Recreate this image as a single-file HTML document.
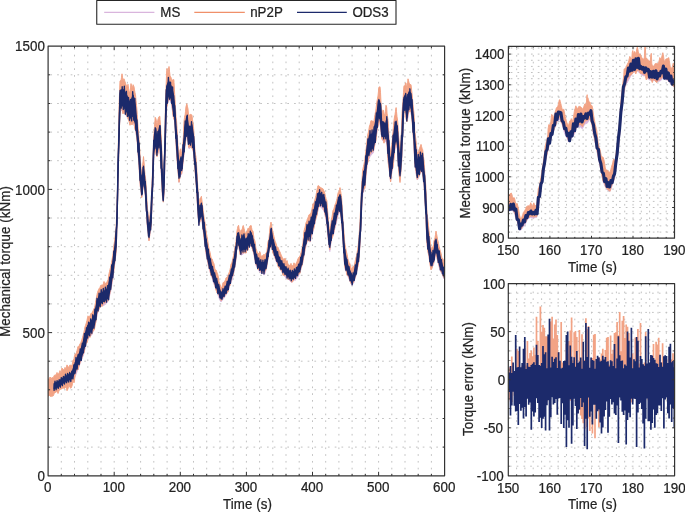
<!DOCTYPE html>
<html lang="en"><head><meta charset="utf-8"><title>Mechanical torque comparison</title>
<style>html,body{margin:0;padding:0;background:#fff}body{width:685px;height:512px;overflow:hidden}svg{display:block}</style>
</head><body>
<svg width="685" height="512" viewBox="0 0 685 512" font-family="'Liberation Sans', Arial, sans-serif" font-size="13.33" fill="#222" stroke-linejoin="round"><style>text{stroke:#222;stroke-width:.22px}</style>
<rect width="685" height="512" fill="#fff"/>
<clipPath id="cm"><rect x="48.1" y="46.2" width="396.5" height="429.6"/></clipPath>
<g stroke="#c2c2c2" stroke-width="1" stroke-dasharray="1.7 5.07" fill="none"><path d="M61.3 46.2V475.8M74.5 46.2V475.8M87.8 46.2V475.8M101 46.2V475.8M114.2 46.2V475.8M127.4 46.2V475.8M140.6 46.2V475.8M153.8 46.2V475.8M167.1 46.2V475.8M180.3 46.2V475.8M193.5 46.2V475.8M206.7 46.2V475.8M219.9 46.2V475.8M233.2 46.2V475.8M246.4 46.2V475.8M259.6 46.2V475.8M272.8 46.2V475.8M286 46.2V475.8M299.2 46.2V475.8M312.5 46.2V475.8M325.7 46.2V475.8M338.9 46.2V475.8M352.1 46.2V475.8M365.3 46.2V475.8M378.6 46.2V475.8M391.8 46.2V475.8M405 46.2V475.8M418.2 46.2V475.8M431.4 46.2V475.8" stroke-dashoffset="5.0"/><path d="M48.1 447.1H444.6M48.1 418.5H444.6M48.1 389.8H444.6M48.1 361.2H444.6M48.1 332.6H444.6M48.1 303.9H444.6M48.1 275.3H444.6M48.1 246.7H444.6M48.1 218H444.6M48.1 189.4H444.6M48.1 160.7H444.6M48.1 132.1H444.6M48.1 103.5H444.6M48.1 74.8H444.6" stroke-dashoffset="4.5"/></g>
<g clip-path="url(#cm)">
<polygon points="54,383.7 55,383.3 56,382.9 57,382.4 58,382 58.8,381.7 59.5,381.1 60.5,380.2 61.5,379.3 62.5,378.5 63.4,377.7 64,377.4 65,376.8 66,376.3 67,375.8 68,375.3 68.5,374.9 69.5,374.3 70.5,373.7 71.5,373 72.5,371 73.5,367.5 74.5,364.1 75.2,361.7 76,360 77,357.8 78,355.6 79,353.3 80,351.1 80.6,349.7 81.5,346.7 82.5,343.4 83.5,339.7 84.5,335.8 85.3,332.7 86,330.4 87,327 87.7,324.7 88.5,323.7 89.5,322.4 90.5,321.1 91.5,319.8 92,318.9 93,316.8 94,314.7 95,311.1 96,305.9 97,300.7 97.5,299 98.5,296.8 99.5,294.5 100.3,292.7 101,292.3 102,291.6 103,291 104,290.3 105,289.7 106,288.7 107,287.8 108,286.8 108.5,284.7 109.5,279.7 110.5,274.7 111.5,268.6 112.5,262.5 113,259.2 114,251.9 114.7,246.7 115.5,239 116.2,231.7 117,209.1 118,167.7 118.5,144 119.3,112 120,92 120.9,87.8 121.5,87.6 122.5,87.4 123.5,87.1 124,87.5 125,89.5 126,91.5 126.9,93.2 127.5,94.7 128.5,97.2 129.5,99.8 130.5,99.5 131.5,96.5 132.5,93.5 133.1,91.7 134,96.3 135,101.4 136,110.3 137,122.9 137.5,128.4 138.5,138.5 139,144.8 140,160 140.5,167.3 141.5,181.2 142,180.7 143,169.9 144,169.6 145,179.9 145.6,186 146.5,200.6 147.2,212 148,220 149,230 150,220.5 151,211 151.5,200.6 152.5,177 153.5,149.3 154,138.8 155,127.6 155.5,127.2 156.5,133.3 157.5,134.2 158.5,129.7 159.5,125.2 160,126.6 161,140.3 161.5,148.9 162.4,177 163,187 163.5,186.4 164.2,167 165,132 165.8,102 166.5,88 167,83.3 168,81 168.8,79.2 169.5,81 170.5,83.3 171.4,85.4 172,87.4 173,90.7 173.8,93.2 174.5,103.9 175,110.6 176,123.7 176.5,130.5 177.5,144.7 178,151.5 179,164.5 180,159.6 180.6,156.7 181.5,160.5 182,158.5 183,148.7 183.5,143 184.5,129.5 185,124.4 186,119.2 186.9,114.5 187.5,118.6 188.5,125.3 189,126.6 190,125.1 191,123.6 191.9,122.3 192.5,126.7 193.4,133.2 194,142 195,156.7 196,166.5 196.6,172.3 197.5,187.1 198,196.2 198.8,212 199.5,209 200.5,205.2 201.4,202 202,206.7 203,214.5 203.5,218.4 204.5,226.2 205.5,234 206,237.6 207,243.7 208,249.8 208.5,252.2 209.5,256.7 210.5,261.1 211.2,264.5 212,266.7 213,269.5 214,272.4 215,275.3 215.6,277 216.5,279.7 217.5,282.7 218.5,285.7 219,287.1 220,290.1 221,293.1 221.5,292.9 222.5,291.6 223.5,290.4 224.2,289.5 225,287.9 226,285.9 227,283.9 227.5,282.7 228.5,279.7 229.5,276.8 230.5,273.9 231.5,269.9 232.5,265.8 233.5,261.8 234,259 235,253 236,247 237,236.4 238,233.5 238.6,231.7 239.5,236.9 240.2,241 241,239 242,236.5 243,234 243.5,233.8 244.5,236.5 245.5,239.2 246,238.9 247,237.4 248,235.9 248.8,234.8 249.5,233.8 250.5,232.5 251.1,231.7 252,235.3 253,239.4 253.5,241.5 254.5,246.7 255.5,251.9 256,254 257,256.8 258,259.5 258.5,260.1 259.5,260.8 260.5,261.5 261.2,262 262,262 263,262 264,262 264.5,261.8 265.5,260.1 266.5,258.3 267,256.2 268,250.1 269,244 270,235.9 271,227.8 272,233.7 273,239.5 274,243 275,246.5 276,250 276.5,251.4 277.5,253.8 278.5,256.2 279.5,258.6 280.5,260.6 281.5,262.1 282.5,263.6 283.1,264.5 284,265.5 285,266.7 286,267.8 287,269 288,269.8 289,270.5 290,271.2 291,272 291.5,272.3 292.5,271.9 293.5,271.5 294.5,271.1 295.3,270.8 296,269.6 297,267.9 298,266.3 299,264.6 300,263 301,258.6 302,254.2 303,247.7 304,239 305,234.6 306,230.2 307,225.9 307.5,224.6 308.5,223.1 309.5,221.6 310.3,220.4 311,218.3 312,215.2 313,212.2 313.5,210.6 314.5,206.7 315.5,202.9 316.5,199 317,197.4 318,194.3 318.9,191.5 319.5,192 320.5,192.7 321.5,193.5 322.5,194.5 323.5,195.8 324.4,197 325,199.9 326,204.7 326.7,208 327.5,217.3 328.3,226.7 329,232.4 329.8,239 330.5,232.9 331.4,225 332,223 333,219.8 333.8,217.3 334.5,214.3 335.5,210.4 336.1,208 337,204.3 338,200.2 338.5,198.2 339.5,194.7 340.5,196.2 341.5,202.6 342,209.9 343,226.6 343.5,233.7 344.5,247.3 345,251.4 346,256.2 347,261 347.8,264.8 348.5,266.6 349.5,269.2 350.2,271 351,273.8 352,277.3 353,275 354,272.6 355,268.7 356,264.8 356.5,262.6 357.5,255.9 358.5,249.3 359,244.1 360,230 360.8,212 361.5,196.3 362,187.8 363,177.2 364,171.5 364.8,167 365.5,160.4 366.5,151.1 367.2,144.5 368,140.5 369,135.5 370,132.8 371,132.3 371.5,132 372.5,131.4 373.4,130.8 374,127.6 375,122.4 375.8,118.2 376.5,113.9 377.3,108.9 378,103.8 378.9,97.2 379.5,99.2 380.5,102.6 381.5,117.2 382.5,123 383.5,120.1 384,121 385,123.9 385.5,122.9 386.5,117.7 387,119.6 388,129.1 388.5,135.3 389.5,152 390.5,162.2 391,159.5 391.8,152 392.5,143.3 393.5,133.3 394.5,126 395.5,121.2 396.1,118.2 397,125.3 397.7,130.8 398.4,142 399,148.8 400,160 401,145.6 401.6,137 402.5,117 403.1,106 403.9,96.4 404.5,94.9 405.5,92.5 406.5,96.2 407.5,96 408.5,92 409.5,90.4 410.5,91.3 411.5,96.4 412.5,105.8 413.5,116.2 414.5,131.1 415,138.8 416,147.8 417,156.8 417.5,158.2 418.5,156.8 419.5,155.4 420.5,154.5 421.1,153.9 422,154.7 422.7,155.4 423.5,163.7 424.2,171 425,181.2 425.8,191.4 426.5,208.1 427,218.6 428,228.8 428.9,238 429.5,242.9 430.5,251 431.5,254.4 432.5,253.3 433.5,252.1 434,249.7 435,243.8 436,238 437,244.2 438,249 439,252.3 439.8,255 440.5,257.8 441.5,261.7 442.2,264.5 443,266.8 443.8,269 444.5,269.9 444.5,279.5 443.8,278.5 443,276.5 442.2,274.5 441.5,273.1 440.5,271.1 439.8,269.7 439,266.5 438,262.5 437,258.1 436,253.2 435,258 434,262.8 433.5,264.9 432.5,266.5 431.5,268.2 430.5,266.1 429.5,260.1 428.9,256.4 428,251 427,244.9 426.5,233.9 425.8,215.6 425,201.2 424.2,186.7 423.5,180.9 422.7,174.1 422,172.7 421.1,170.9 420.5,172.7 419.5,175.6 418.5,177.7 417.5,179.9 417,179.3 416,173.1 415,166.5 414.5,157.9 413.5,139.2 412.5,126.1 411.5,115.7 410.5,110.3 409.5,110 408.5,113.7 407.5,120.8 406.5,120.2 405.5,112.4 404.5,112.1 403.9,112 403.1,125.7 402.5,140.9 401.6,162.3 401,169.1 400,180.5 399,171.7 398.4,166.5 397.7,150.7 397,148.2 396.1,145 395.5,147.4 394.5,151 393.5,160.3 392.5,168.4 391.8,172.8 391,179.5 390.5,181.9 389.5,172.6 388.5,164 388,158.3 387,145.5 386.5,141.8 385.5,141.7 385,141.4 384,140.9 383.5,140.8 382.5,140.6 381.5,136 380.5,127 379.5,122 378.9,118.8 378,124.1 377.3,128.7 376.5,135 375.8,140.4 375,144.3 374,149.1 373.4,152.7 372.5,153.8 371.5,154.7 371,155 370,156.8 369,158.7 368,161 367.2,162.7 366.5,169.8 365.5,180.3 364.8,187.9 364,190.5 363,192.9 362,203.7 361.5,213.9 360.8,229.9 360,246.2 359,257.8 358.5,262 357.5,267.5 356.5,273.5 356,275.4 355,278.9 354,282.4 353,283.9 352,285.4 351,283.5 350.2,281.9 349.5,280.2 348.5,277.9 347.8,276.1 347,274 346,271.3 345,269.1 344.5,265.3 343.5,249.4 343,241.5 342,227.7 341.5,221.5 340.5,214.5 339.5,211.9 338.5,213.7 338,215.9 337,220 336.1,223.7 335.5,226.2 334.5,230.2 333.8,233.3 333,235.1 332,237.5 331.4,239.5 330.5,246.5 329.8,251.7 329,245.7 328.3,240.4 327.5,231.9 326.7,223.4 326,220.2 325,215.2 324.4,212.3 323.5,210.6 322.5,209 321.5,207.8 320.5,207.1 319.5,206.6 318.9,206.6 318,210.2 317,214.2 316.5,216.2 315.5,220.6 314.5,225.1 313.5,229.7 313,231.8 312,235.7 311,239.4 310.3,242 309.5,241.7 308.5,241 307.5,240.7 307,241.6 306,246.1 305,250.9 304,255.7 303,261.2 302,265.4 301,269 300,272.5 299,274.7 298,277 297,278.3 296,279.6 295.3,280.2 294.5,280.1 293.5,280.7 292.5,281.8 291.5,282.5 291,282.1 290,281 289,279.9 288,278.7 287,278.6 286,278.2 285,276.8 284,275.3 283.1,274.1 282.5,273 281.5,271.4 280.5,270.1 279.5,268.3 278.5,266.2 277.5,264.1 276.5,262.2 276,261.1 275,258.3 274,255.4 273,252.3 272,248.4 271,244.3 270,248 269,251.8 268,258.5 267,265.8 266.5,268.6 265.5,271.8 264.5,274.8 264,275.1 263,274.2 262,273.2 261.2,273.4 260.5,272.8 259.5,271.7 258.5,270.2 258,269.4 257,267.4 256,265.4 255.5,263.4 254.5,258.2 253.5,252.9 253,251.1 252,248 251.1,245.6 250.5,246.1 249.5,247.1 248.8,247.9 248,249.5 247,250.7 246,251.9 245.5,252.6 244.5,252.9 243.5,253.6 243,254.1 242,255.1 241,254.8 240.2,254.5 239.5,250.5 238.6,245.4 238,245.4 237,245.6 236,259.8 235,265.6 234,271.5 233.5,274.5 232.5,278.5 231.5,281.5 230.5,283.6 229.5,286.2 228.5,289.4 227.5,292.5 227,293.5 226,295.1 225,296.6 224.2,297.8 223.5,298.7 222.5,299.9 221.5,301.4 221,302 220,300.3 219,297.9 218.5,296.6 217.5,293.6 216.5,290.4 215.6,288 215,286.6 214,284.3 213,281 212,277.7 211.2,275.9 210.5,273.5 209.5,270 208.5,266.1 208,264 207,259.2 206,254.4 205.5,250.7 204.5,242.1 203.5,233.4 203,229.5 202,221.8 201.4,217 200.5,220.4 199.5,223.7 198.8,225.6 198,215.6 197.5,207 196.6,189.7 196,182.1 195,169.5 194,158.9 193.4,152.3 192.5,148.3 191.9,145.6 191,146.8 190,148.2 189,148.9 188.5,146.8 187.5,137.3 186.9,131.7 186,138.3 185,145.9 184.5,149.9 183.5,158.6 183,163.2 182,172.5 181.5,174.8 180.6,174.2 180,177 179,182.4 178,171.4 177.5,165 176.5,150.6 176,143.1 175,126.4 174.5,120.8 173.8,118.9 173,114.3 172,108.2 171.4,103.7 170.5,101.8 169.5,100.3 168.8,99.6 168,102 167,105.4 166.5,111 165.8,126.8 165,156.8 164.2,191.7 163.5,200.8 163,200.8 162.4,195.8 161.5,177.8 161,168.3 160,149.3 159.5,146.4 158.5,150.2 157.5,154.6 156.5,154.8 155.5,149.7 155,149.3 154,155.3 153.5,165.1 152.5,193.2 151.5,217.4 151,227.5 150,233.6 149,240.3 148,232 147.2,225.6 146.5,214 145.6,199.1 145,194.7 144,187.4 143,187.9 142,196.6 141.5,197.4 140.5,188 140,181.7 139,166.8 138.5,159.5 137.5,145.2 137,139.7 136,132.9 135,128 134,124.8 133.1,121.9 132.5,122.3 131.5,122.6 130.5,122.8 129.5,121.8 128.5,119.8 127.5,117.8 126.9,116.6 126,115.3 125,114.3 124,113.3 123.5,112.7 122.5,111.6 121.5,110.3 120.9,109.3 120,112.4 119.3,130.4 118.5,162.3 118,183.8 117,224.4 116.2,251.2 115.5,257.4 114.7,263.9 114,268.9 113,277 112.5,280.7 111.5,286.9 110.5,292.3 109.5,296.1 108.5,300.1 108,301.7 107,302.6 106,303.5 105,304.6 104,305.6 103,305.6 102,305.5 101,306.2 100.3,306.6 99.5,308.5 98.5,310.8 97.5,313.4 97,315.4 96,321.1 95,325.7 94,328.6 93,331.7 92,334.7 91.5,335.2 90.5,335.6 89.5,336.7 88.5,338.4 87.7,339.5 87,341.6 86,344.6 85.3,347.7 84.5,351.3 83.5,355 82.5,357.6 81.5,360.1 80.6,362.7 80,363.8 79,366.6 78,369.3 77,371.8 76,374.5 75.2,376.6 74.5,377.9 73.5,379.3 72.5,380.4 71.5,381.1 70.5,381.5 69.5,382 68.5,382.5 68,382.8 67,383.3 66,383.9 65,384.6 64,385.2 63.4,385.4 62.5,386 61.5,386.8 60.5,388 59.5,389.1 58.8,389.9 58,390.6 57,390.3 56,390.1 55,391.5 54,393" fill="#d9b5dd" stroke="#d9b5dd" stroke-width="0.8"/>
<polygon points="48.4,379 49.3,378.4 50.2,377 51.1,379.5 52,377.4 52.9,377.9 53.8,377 54,375.7 54.5,375.3 55,374.8 55.5,375.1 56,375.4 56.5,374 57,372.5 57.5,373.2 58,373.9 58.5,373.7 58.8,373.5 59,373.3 59.5,371.9 60,370.6 60.5,371.7 61,372.7 61.5,370.4 62,368 62.5,368.8 63,369.6 63.4,369.6 63.5,369.7 64,369.9 64.5,368.6 65,367.4 65.5,368.3 66,369.1 66.5,367 67,364.9 67.5,366 68,367.1 68.1,367.1 68.5,367.1 69,367.2 69.5,366 70,364.8 70.5,365.2 71,365.7 71.5,365.6 72,365.6 72.5,362.9 73,360.2 73.5,359.5 74,358.8 74.5,355.8 75,354.3 75.2,354.1 75.5,354 76,354 76.5,352.3 77,350.7 77.5,348.6 78,346.4 78.5,346.4 79,346.4 79.5,345.1 80,343.8 80.5,343.3 80.6,343.2 81,342.3 81.5,340.8 82,339.2 82.5,337.6 83,335.9 83.5,333.9 84,331.9 84.5,329.4 85,326.9 85.3,325.9 85.5,325.4 86,324 86.5,322.2 87,320.4 87.5,317.8 87.7,316.7 88,315.8 88.5,316.5 89,317.2 89.5,316.5 90,315.8 90.5,314.6 91,313.3 91.5,313.3 91.6,313.4 92,313.1 92.5,312 93,311 93.5,309.8 94,308.6 94.5,307.7 95,305.3 95.5,302.5 96,299.8 96.5,297.3 97,294.8 97.2,293.6 97.5,292.6 98,291 98.5,289.9 99,288.7 99.5,288.1 100,287.5 100.3,286.5 100.5,286.1 101,285.2 101.5,285.2 102,285.1 102.5,285.1 103,285.1 103.5,283.3 104,281.5 104.5,282.6 105,283.7 105.5,283.3 106,282.9 106.5,282.4 107,281.9 107.5,280.8 108,279.7 108.1,279.5 108.5,277 109,273.8 109.5,271.6 110,269.4 110.5,267.6 111,265.4 111.5,262.5 112,260 112.5,257 112.8,255.3 113,253.8 113.5,249.4 114,244.9 114.5,241.4 114.7,240.1 115,237.3 115.5,232.8 116,228.3 116.2,225.6 116.5,217.8 117,202.2 117.5,187.4 118,161.7 118.3,144.9 118.5,136.2 119,109.7 119.3,98.7 119.5,93.6 120,80.9 120.5,80.7 120.9,80.5 121,80.9 121.5,77.3 122,73.8 122.5,77.2 123,80.7 123.5,79.4 123.8,78.8 124,78.8 124.5,80.2 125,81.7 125.5,83.2 126,84.6 126.5,85.8 126.9,86.7 127,87 127.5,85.6 128,84.3 128.5,88.2 129,92 129.5,92 130,92.1 130.5,87.9 131,83.6 131.5,86 132,88.4 132.5,86.8 133,85.2 133.1,84.7 133.5,85.6 134,86.8 134.5,89.9 135,92.9 135.5,94.8 136,100.4 136.5,105.5 137,110.7 137.2,114.3 137.5,119 138,126.8 138.5,133 138.8,135.5 139,139.2 139.5,146.8 140,154.4 140.3,159.1 140.5,161.9 141,169 141.5,174.1 141.7,176.1 142,171.7 142.5,166.7 143,161.8 143.5,156.6 144,162 144.5,168.3 145,174.7 145.5,178.1 145.6,178.7 146,183.9 146.5,192.4 147,201.3 147.2,204.8 147.5,208.2 148,213.9 148.5,218.2 149,222.5 149.5,218.5 150,214.4 150.5,209.9 151,205.4 151.1,204.5 151.5,195.3 152,183.6 152.5,171.7 153,157.8 153.5,144 153.8,135.8 154,133.6 154.5,126.3 155,120.3 155.2,117.3 155.5,117.9 156,119 156.5,122.4 157,125.9 157.5,122.5 158,119.2 158.5,118 159,116.7 159.5,116.4 159.8,116.2 160,119.6 160.5,125.5 161,133.7 161.4,139.4 161.5,142.6 162,158.5 162.4,170.1 162.5,171.6 163,178.8 163.3,184.4 163.5,179.2 164,166.2 164.2,160.8 164.5,147.9 165,125 165.5,104.8 165.8,92.7 166,88.1 166.5,75.6 166.7,70.7 167,68.5 167.5,71.3 168,74.1 168.5,69.7 168.8,67.5 169,66.5 169.5,71.1 170,75.6 170.5,76.6 171,77.5 171.4,78.5 171.5,78.8 172,80.5 172.5,80 173,79.6 173.5,79.6 173.8,79.6 174,82.3 174.5,91 174.7,94.5 175,99.4 175.5,107.9 176,116.5 176.2,118.2 176.5,120.2 177,128.6 177.5,137.4 177.8,142.6 178,145.9 178.5,152.5 179,159.1 179.5,154.7 180,150.4 180.5,149.1 180.6,148.8 181,151.4 181.5,153.3 181.7,154.1 182,151 182.5,146.2 183,141.4 183.3,137.7 183.5,134.4 184,121.2 184.5,117.8 184.8,115.8 185,116.2 185.5,111.3 186,106.5 186.5,105 186.9,103.7 187,104.6 187.5,106.8 188,109 188.5,114.9 188.8,117.8 189,118.7 189.5,116.4 190,114.2 190.5,114.4 191,114.5 191.5,114.8 191.9,114.9 192,115.9 192.5,119.7 193,123.5 193.4,125.3 193.5,126.5 194,135.1 194.5,143.3 195,151.5 195.5,154.3 196,157.2 196.5,164.1 196.6,165.4 197,173.6 197.5,181.8 197.8,186.8 198,191 198.5,201.3 198.8,206.6 199,205.6 199.5,201.9 200,198.2 200.5,197.9 201,197.6 201.4,196.3 201.5,197.2 202,201.2 202.5,205.2 203,209.1 203.4,212.2 203.5,213 204,216.9 204.5,219.9 205,223 205.5,227 205.8,229.5 206,230.8 206.5,233.6 207,236.5 207.5,239.4 208,242.3 208.1,243.2 208.5,245.8 209,249 209.5,250.6 210,252.2 210.5,254.9 211,257.5 211.2,258.1 211.5,258.3 212,258.7 212.5,260.1 213,261.5 213.5,262.7 214,263.9 214.5,266.9 215,269.9 215.5,269.8 215.6,269.8 216,269.9 216.5,271.2 217,272.5 217.5,273.9 218,275.2 218.5,278.5 218.8,280.1 219,281.7 219.5,283.2 220,284.6 220.5,286.1 221,287.7 221.1,288 221.5,287.5 222,286.9 222.5,284.8 223,282.8 223.5,282.3 224,281.8 224.2,281.8 224.5,281.5 225,281 225.5,279.4 226,277.9 226.5,277.4 227,277 227.3,276.8 227.5,276.4 228,275.5 228.5,274.2 229,272.9 229.5,271.4 230,269.9 230.5,267.4 231,264.3 231.5,263.3 232,262.3 232.5,260.2 233,258.1 233.5,255.9 233.6,255.5 234,253 234.5,250.3 235,247.6 235.5,244.5 236,241.4 236.5,236.1 237,230.8 237.5,228.4 238,226.1 238.5,225.4 238.6,225.3 239,228.2 239.5,231.1 240,234.1 240.2,234.6 240.5,232.8 241,229.9 241.5,230.1 242,230.2 242.5,228 243,225.8 243.3,225.5 243.5,226.3 244,228.4 244.5,230.4 245,232.5 245.5,233.5 245.6,233.8 246,232.9 246.5,232.1 247,231.4 247.5,229.8 248,228.2 248.5,228.4 248.8,228.5 249,228.7 249.5,227.3 250,225.9 250.5,225.7 251,225.4 251.1,225.4 251.5,227.3 252,229.8 252.5,230.4 253,231.1 253.4,233.9 253.5,234.7 254,238.7 254.5,240 255,241.3 255.5,245.2 255.8,247.5 256,248.6 256.5,250 257,251.4 257.5,252.7 258,254 258.1,254.1 258.5,253.5 259,252.8 259.5,252.4 260,251.9 260.5,254.2 261,256.4 261.2,256.4 261.5,256.2 262,255.8 262.5,255.8 263,255.8 263.5,255 264,254.2 264.4,255.1 264.5,255.2 265,255.5 265.5,254.2 266,253 266.5,252.3 266.7,252.1 267,250.4 267.5,246.2 268,242 268.5,240.2 269,238.4 269.5,232.7 270,227 270.5,224.6 271,222.1 271.5,225.1 272,228.1 272.5,230.2 273,232.3 273.5,234.5 274,236.8 274.5,238.9 275,241.1 275.5,242.1 276,243.2 276.1,243.7 276.5,245.2 277,247.2 277.5,247.2 278,247.2 278.5,248.7 279,250.2 279.5,251.1 280,252 280.5,253.3 281,254.5 281.5,255.7 282,257 282.5,257.7 283,258.4 283.1,258.6 283.5,259 284,259.6 284.5,258.9 285,258.2 285.5,260.3 286,262.4 286.5,261.5 287,260.5 287.5,262.4 288,264.3 288.5,264.7 289,265 289.5,265.3 290,265.6 290.5,264.5 291,263.4 291.4,264.6 291.5,264.8 292,265.8 292.5,265.8 293,265.8 293.5,264.3 294,262.8 294.5,264.1 295,265.3 295.3,265 295.5,264.6 296,263.5 296.5,262.5 297,261.6 297.5,260.1 298,258.7 298.5,257.9 299,257.1 299.5,256.6 300,256.1 300.5,254.4 301,252.8 301.5,250.6 302,248.5 302.5,246.4 303,242.2 303.5,236.5 304,230.9 304.5,229.2 305,227.6 305.5,225.2 306,222.8 306.5,221.6 307,220.4 307.2,219.4 307.5,218.8 308,217.8 308.5,216.2 309,214.7 309.5,214.4 310,214.2 310.3,214.1 310.5,213.8 311,212.8 311.5,211 312,209.1 312.5,206.4 313,203.8 313.4,203.7 313.5,203.6 314,203.1 314.5,201.2 315,199.3 315.5,197.3 316,195.4 316.5,192.5 316.6,191.9 317,189.9 317.5,187.7 318,185.6 318.5,185.8 318.9,185.9 319,186.3 319.5,186.7 320,187.1 320.5,187.4 321,187.7 321.5,188 322,188.3 322.5,188.5 323,188.8 323.5,190 324,191.2 324.4,191.6 324.5,192 325,194.2 325.5,196.6 326,199.1 326.5,199.7 326.7,199.9 327,202.3 327.5,209.1 328,215.8 328.3,219.9 328.5,221.9 329,227 329.5,229.3 329.8,230.7 330,228.2 330.5,225.6 331,223.1 331.4,219.4 331.5,219 332,217.1 332.5,213.8 333,210.5 333.5,209.6 333.8,209.1 334,208.5 334.5,206.7 335,204.9 335.5,203.6 336,202.4 336.1,202 336.5,200.6 337,198.8 337.5,196.1 338,193.2 338.4,192.3 338.5,192.1 339,191.3 339.5,189.5 340,187.6 340.5,190.6 341,193.6 341.5,197 341.6,197.6 342,204.5 342.5,212.6 343,220.7 343.1,222.1 343.5,226.8 344,232.7 344.5,239.8 344.7,242.6 345,244.2 345.5,247.1 346,249.9 346.5,252 347,254.1 347.5,256.9 347.8,258.5 348,259.2 348.5,260.8 349,262.4 349.5,263.1 350,263.8 350.2,264.4 350.5,265.7 351,267.9 351.5,268.8 352,269.8 352.5,268.1 353,266.3 353.5,266.4 354,266.6 354.5,264.4 355,262.1 355.5,259.7 356,257.3 356.4,256.3 356.5,255.8 357,253.3 357.5,250.1 358,247 358.5,242.8 358.8,240.7 359,236.7 359.5,229.2 360,221.6 360.5,210.7 360.8,204.2 361,199.8 361.5,188.5 361.6,186.3 362,180.3 362.5,171.9 363,168.5 363.5,166.3 364,164.2 364.5,161.5 364.8,159.9 365,158 365.5,153.9 366,149.7 366.5,145.2 367,140.8 367.2,138.6 367.5,136.7 368,133.5 368.5,131.9 369,128.9 369.5,125.8 370,124.9 370.5,122.8 371,120.6 371.1,120.7 371.5,120.8 372,120.9 372.5,121.1 373,121.3 373.4,122.1 373.5,121.9 374,120.7 374.5,117.6 375,114.6 375.5,111.8 375.8,110.2 376,108.9 376.5,105 377,101.1 377.3,99.8 377.5,98.7 378,96 378.5,91.1 378.9,87.2 379,87.2 379.5,87 380,86.7 380.5,92.2 381,103.2 381.5,108.8 382,114.5 382.5,112.2 383,109.9 383.5,110.4 383.6,110.6 384,113.3 384.5,114.4 385,115.5 385.2,114.8 385.5,111.3 386,105.3 386.5,107 386.7,107.6 387,113.1 387.5,116.7 388,120.3 388.3,123.8 388.5,127.6 389,138.4 389.5,145.3 390,149 390.5,153.4 390.6,154.3 391,149.9 391.5,146.8 391.8,145 392,143.1 392.5,137.4 393,131.8 393.5,125.5 394,120.5 394.5,117 395,114.7 395.5,111.3 396,107.9 396.1,107.6 396.5,111.7 397,116.7 397.5,120 397.7,121.3 398,125.7 398.4,134.4 398.5,135.3 399,140.2 399.5,146.9 400,153.6 400.5,146.7 401,139.7 401.5,130.7 401.6,128.9 402,113.6 402.5,106.4 403,101 403.1,98.8 403.5,92.6 403.9,86.4 404,85.7 404.5,85.9 405,86.1 405.5,82.9 406,82.9 406.5,87.1 407,91.4 407.5,85.1 408,78.8 408.5,80.7 409,82.6 409.5,83.5 410,84.3 410.5,84.5 411,84.7 411.5,89 412,93.4 412.5,98.7 413,104.5 413.5,109 414,113.6 414.5,123.3 414.8,131.1 415,132.9 415.5,136.6 416,140.3 416.5,145.7 417,151.1 417.2,152.9 417.5,152.6 418,152 418.5,151.4 419,150.7 419.5,148.8 420,147.1 420.5,145.8 421,144.4 421.1,144.7 421.5,146.3 422,148.3 422.5,149.3 422.7,149.7 423,153.1 423.5,156.9 424,160.6 424.2,163.2 424.5,167.8 425,175.4 425.5,182 425.8,185.9 426,190.8 426.5,202.6 426.9,212.1 427,213.2 427.5,217.2 428,221.1 428.5,226.1 428.9,230.1 429,230.9 429.5,235.5 430,240 430.5,244.4 431,248.8 431.5,248.1 432,247.3 432.5,247.2 433,247.1 433.5,244.8 433.6,244.3 434,240.6 434.5,239.3 435,238 435.5,234.6 436,231.1 436.5,233.7 437,236.2 437.5,239.3 438,241 438.5,243.6 439,246.2 439.5,248.1 439.8,249.2 440,250.1 440.5,251.7 441,253.3 441.5,255.8 442,258.3 442.2,258.5 442.5,258.6 443,258.7 443.5,261.3 443.8,262.6 444,263.5 444.5,262.9 444.6,262.8 444.6,278.2 444.5,278.1 444,277.5 443.8,277.4 443.5,276.8 443,275.7 442.5,274 442.2,273 442,272.5 441.5,272.2 441,271.9 440.5,270.2 440,268.5 439.8,268.1 439.5,266.9 439,265 438.5,263.2 438,261.4 437.5,259.9 437,257.8 436.5,255.4 436,253.1 435.5,254.5 435,255.9 434.5,258.6 434,261.4 433.6,263.4 433.5,263.5 433,264.3 432.5,266.3 432,268.2 431.5,269.1 431,269.9 430.5,267.1 430,264.3 429.5,260.1 429,255.8 428.9,255.5 428.5,254 428,252.1 427.5,247.8 427,243.6 426.9,243 426.5,232.5 426,219.4 425.8,214.4 425.5,209.4 425,200.9 424.5,191.7 424.2,185.8 424,183.8 423.5,180.3 423,176.9 422.7,173.9 422.5,173.3 422,171.6 421.5,170.6 421.1,169.9 421,170.2 420.5,171.6 420,173.1 419.5,174.8 419,176 418.5,176.8 418,177.6 417.5,178.6 417.2,179.3 417,178 416.5,174.8 416,171.6 415.5,168.2 415,164.9 414.8,164 414.5,157.3 414,146.2 413.5,139.2 413,132.2 412.5,125.3 412,119.7 411.5,115.2 411,110.6 410.5,111.4 410,112.1 409.5,110.8 409,109.5 408.5,112.1 408,114.7 407.5,118.2 407,121.7 406.5,120.2 406,118.7 405.5,113.6 405,112 404.5,112.2 404,112.4 403.9,112.5 403.5,119.4 403.1,126.3 403,128.9 402.5,140.3 402,151 401.6,161.5 401.5,162.9 401,170.1 400.5,176.3 400,182.5 399.5,178.1 399,173.8 398.5,167.8 398.4,166.6 398,156.3 397.7,149.4 397.5,148.5 397,146.2 396.5,144 396.1,142.2 396,142.6 395.5,144.8 395,147.1 394.5,151.4 394,158.4 393.5,163 393,167.7 392.5,168.8 392,170 391.8,171.3 391.5,174 391,178.5 390.6,181.9 390.5,180.9 390,176.2 389.5,172 389,168.1 388.5,164.9 388.3,163.6 388,160.4 387.5,152.4 387,144.4 386.7,140.3 386.5,140.2 386,140 385.5,139.6 385.2,139.4 385,139.3 384.5,141.2 384,143.2 383.6,141.6 383.5,141.2 383,139.2 382.5,139.3 382,139.5 381.5,135.2 381,130.8 380.5,125.7 380,122.7 379.5,121.9 379,121.1 378.9,120.6 378.5,123.3 378,126.6 377.5,128.1 377.3,128.7 377,129.9 376.5,135 376,140.1 375.8,141.1 375.5,142 375,143.5 374.5,145.8 374,148 373.5,150.6 373.4,151.1 373,151.3 372.5,151.5 372,151.8 371.5,152 371.1,152.2 371,152.4 370.5,153.3 370,154.1 369.5,155 369,156.3 368.5,159.4 368,162.6 367.5,163 367.2,163.2 367,165 366.5,170 366,175 365.5,181.1 365,187.2 364.8,188.6 364.5,188.3 364,188 363.5,190.2 363,192.5 362.5,192.8 362,201.5 361.6,209.5 361.5,211.8 361,223.2 360.8,227.7 360.5,233.6 360,243.5 359.5,250.6 359,257.7 358.8,261.1 358.5,262.8 358,266.3 357.5,267.8 357,269.4 356.5,272.4 356.4,273 356,274.3 355.5,276.1 355,277.9 354.5,279.4 354,280.9 353.5,282 353,283 352.5,283.5 352,283.9 351.5,283.8 351,283.6 350.5,282.4 350.2,281.7 350,281 349.5,279.3 349,277.7 348.5,276.4 348,275.2 347.8,275.2 347.5,275.3 347,275.5 346.5,272.7 346,270 345.5,268.7 345,267.5 344.7,266.8 344.5,263.7 344,256 343.5,247.9 343.1,241.4 343,240 342.5,233.4 342,226.8 341.6,221.2 341.5,220.5 341,216.8 340.5,213.8 340,210.8 339.5,210.8 339,210.8 338.5,211.3 338.4,211.4 338,213.1 337.5,215.1 337,217.1 336.5,219.5 336.1,221.4 336,221.9 335.5,224.1 335,226.2 334.5,228.6 334,231 333.8,232.5 333.5,233.6 333,235.8 332.5,237.1 332,238.5 331.5,239.1 331.4,239.2 331,241.3 330.5,244.6 330,247.8 329.8,249.5 329.5,247.7 329,244.6 328.5,240.9 328.3,239.5 328,236.3 327.5,230.2 327,224 326.7,220.9 326.5,220 326,217.7 325.5,216 325,214.2 324.5,211.7 324.4,211.2 324,210.3 323.5,208.7 323,207.2 322.5,206.2 322,205.2 321.5,205.4 321,205.5 320.5,205.8 320,206.1 319.5,206 319,205.9 318.9,205.8 318.5,207.2 318,208.9 317.5,212.1 317,215.3 316.6,216.5 316.5,216.8 316,218.4 315.5,220 315,221.6 314.5,224.5 314,227.5 313.5,229.2 313.4,229.5 313,230.5 312.5,231.9 312,233.4 311.5,235.2 311,236.9 310.5,239.7 310.3,240.8 310,241.5 309.5,240.8 309,240.2 308.5,240.5 308,240.8 307.5,240.9 307.2,241 307,241.9 306.5,243.2 306,244.5 305.5,246.9 305,249.4 304.5,252.3 304,255.2 303.5,258 303,260.8 302.5,263.9 302,265.7 301.5,266.6 301,267.5 300.5,270.4 300,273.2 299.5,273.7 299,274.2 298.5,274.5 298,274.7 297.5,275.3 297,275.9 296.5,276.5 296,277.2 295.5,277.9 295.3,278.2 295,278.4 294.5,278.7 294,279 293.5,280.1 293,281.1 292.5,281.7 292,282.3 291.5,281.8 291.4,281.7 291,280.8 290.5,280.5 290,280.2 289.5,279.4 289,278.6 288.5,279.1 288,279.7 287.5,278.3 287,276.9 286.5,276.3 286,275.7 285.5,275.5 285,275.2 284.5,275.3 284,275.3 283.5,275.3 283.1,275.3 283,275.3 282.5,273.4 282,271.6 281.5,270.6 281,269.6 280.5,269.6 280,269.6 279.5,268.3 279,267 278.5,266.9 278,266.7 277.5,264.4 277,262 276.5,261 276.1,260.3 276,260 275.5,258.7 275,257.4 274.5,256.3 274,255.2 273.5,254.2 273,253.2 272.5,250.8 272,248.3 271.5,245.7 271,243.1 270.5,245.1 270,247 269.5,249.2 269,251.4 268.5,254.8 268,258.2 267.5,261.3 267,264.3 266.7,266.8 266.5,267.6 266,269.7 265.5,270.3 265,270.9 264.5,272.8 264.4,273.2 264,273.4 263.5,273 263,272.5 262.5,272.6 262,272.6 261.5,272.3 261.2,272.2 261,271.7 260.5,271 260,270.3 259.5,269.9 259,269.4 258.5,269.6 258.1,269.7 258,269.7 257.5,267.7 257,265.7 256.5,265.2 256,264.8 255.8,264.1 255.5,262.3 255,259.1 254.5,256.5 254,253.8 253.5,252 253.4,251.7 253,251.3 252.5,249.5 252,247.8 251.5,246 251.1,244.6 251,244.6 250.5,244.9 250,245.3 249.5,246.2 249,247.1 248.8,247.7 248.5,248.5 248,250.2 247.5,249.7 247,249.2 246.5,251.2 246,253.3 245.6,253.1 245.5,252.9 245,252 244.5,252.5 244,253.1 243.5,253 243.3,253 243,253 242.5,252.8 242,252.6 241.5,253.4 241,254.1 240.5,254.6 240.2,254.9 240,254 239.5,250.7 239,247.5 238.6,245.4 238.5,245.5 238,245.7 237.5,245.1 237,244.5 236.5,251.6 236,258.6 235.5,262.1 235,265.6 234.5,268 234,270.3 233.6,273.1 233.5,273.5 233,275.5 232.5,276.5 232,277.5 231.5,279 231,280.5 230.5,283 230,285.4 229.5,285.9 229,286.4 228.5,289.2 228,292.1 227.5,292.2 227.3,292.2 227,291.9 226.5,293.1 226,294.4 225.5,294.7 225,295 224.5,295.7 224.2,296.2 224,296.4 223.5,297.1 223,297.7 222.5,298.3 222,298.9 221.5,299.9 221.1,300.7 221,300.6 220.5,299 220,297.4 219.5,296.4 219,295.3 218.8,294.7 218.5,294.1 218,293 217.5,293 217,293 216.5,291.6 216,290.2 215.6,288.4 215.5,288 215,285.6 214.5,283.9 214,282.3 213.5,280.8 213,279.2 212.5,277.9 212,276.6 211.5,276.2 211.2,276 211,275.7 210.5,273 210,270.4 209.5,269.2 209,267.9 208.5,265.4 208.1,263.4 208,262.7 207.5,259.9 207,257.2 206.5,254.8 206,252.3 205.8,251.1 205.5,248.4 205,243.9 204.5,240.8 204,237.8 203.5,232.7 203.4,231.7 203,228 202.5,224 202,219.9 201.5,216.1 201.4,215.4 201,217 200.5,219.2 200,221.4 199.5,222.6 199,223.7 198.8,224.3 198.5,220.8 198,214 197.8,211.3 197.5,205.7 197,196.7 196.6,189.6 196.5,188.4 196,182.8 195.5,176.6 195,170.5 194.5,164 194,157.5 193.5,152.6 193.4,151.7 193,150.4 192.5,149.4 192,148.4 191.9,147.8 191.5,147.7 191,147.5 190.5,146.9 190,146.4 189.5,146.9 189,147.4 188.8,147.6 188.5,145.3 188,140.7 187.5,137 187,133.4 186.9,132.3 186.5,134.6 186,137.6 185.5,141.8 185,145.9 184.8,147.2 184.5,149.3 184,152.8 183.5,157.7 183.3,159.6 183,162.6 182.5,166.8 182,170.9 181.7,173.7 181.5,173.8 181,174.1 180.6,174 180.5,174.5 180,176.9 179.5,179.6 179,182.3 178.5,176.7 178,171.2 177.8,169.5 177.5,165.6 177,159.2 176.5,151.1 176.2,147 176,142.7 175.5,134.1 175,125.6 174.7,120.7 174.5,120.2 174,118.8 173.8,118.8 173.5,117.8 173,115.7 172.5,110.6 172,105.5 171.5,102.1 171.4,101.4 171,100.9 170.5,100.4 170,99.8 169.5,99.2 169,98.5 168.8,98.4 168.5,99.3 168,101.1 167.5,103.8 167,106.4 166.7,106.9 166.5,111.1 166,121.5 165.8,125.6 165.5,136.3 165,154.2 164.5,177.2 164.2,190.9 164,194 163.5,200.2 163.3,202.2 163,200 162.5,196 162.4,195.2 162,187.1 161.5,176.7 161.4,174.6 161,166.5 160.5,156.8 160,147 159.8,143.1 159.5,144.4 159,146.7 158.5,150 158,153.2 157.5,155 157,156.7 156.5,155.6 156,154.5 155.5,150.1 155.2,147.5 155,148.1 154.5,151 154,154 153.8,155.4 153.5,163.8 153,177.9 152.5,191.6 152,203.5 151.5,216.4 151.1,226.8 151,227.6 150.5,230.1 150,232.6 149.5,236.8 149,240.9 148.5,236.1 148,231.4 147.5,227.1 147.2,224.5 147,221.1 146.5,212.6 146,204.2 145.6,197.4 145.5,196.6 145,192.7 144.5,189.9 144,187.1 143.5,182.6 143,186.3 142.5,190.7 142,195 141.7,197.6 141.5,195.7 141,190.9 140.5,187.6 140.3,186.3 140,182.7 139.5,174.1 139,165.5 138.8,162.1 138.5,158.8 138,152.2 137.5,145.4 137.2,141.4 137,140.1 136.5,135.9 136,131.6 135.5,129.8 135,129.8 134.5,126.7 134,123.7 133.5,122.1 133.1,120.8 133,120.8 132.5,122.9 132,125 131.5,123.2 131,121.4 130.5,123.4 130,125.3 129.5,123.2 129,121.1 128.5,119.9 128,118.7 127.5,117.2 127,115.7 126.9,115.6 126.5,115.4 126,115.3 125.5,114.5 125,113.8 124.5,112.5 124,111.2 123.8,111.8 123.5,112.5 123,113.9 122.5,111.6 122,109.2 121.5,108.6 121,107.9 120.9,108.1 120.5,110.7 120,113.9 119.5,126.1 119.3,130.9 119,142.5 118.5,162.3 118.3,170.2 118,183.5 117.5,205.6 117,223.2 116.5,241.7 116.2,250.9 116,253.4 115.5,256.7 115,260 114.7,263.1 114.5,264.9 114,269.6 113.5,272.5 113,275.5 112.8,277 112.5,278.7 112,281.7 111.5,284.8 111,287.8 110.5,290.7 110,292.6 109.5,294.8 109,297.1 108.5,299 108.1,300.5 108,300.6 107.5,301.1 107,301.6 106.5,301.7 106,301.9 105.5,302.2 105,302.5 104.5,302.9 104,303.2 103.5,303.7 103,304.3 102.5,305.4 102,306.5 101.5,305.9 101,305.3 100.5,306.1 100.3,306.4 100,307.4 99.5,308.4 99,309 98.5,310.5 98,312 97.5,312.5 97.2,312.8 97,313.6 96.5,317.3 96,321.1 95.5,323.5 95,325.9 94.5,328.9 94,330.4 93.5,330.6 93,330.8 92.5,332.2 92,333.6 91.6,334 91.5,334 91,334.2 90.5,335.8 90,337.4 89.5,336.6 89,335.9 88.5,337.5 88,339.1 87.7,339.8 87.5,340.7 87,342.9 86.5,343.2 86,343.5 85.5,345.4 85.3,346.1 85,347.3 84.5,350 84,352.7 83.5,353.6 83,354.6 82.5,356 82,357.4 81.5,358.9 81,360.3 80.6,361.5 80.5,361.7 80,362.7 79.5,364.2 79,365.7 78.5,367.9 78,370 77.5,369.2 77,368.8 76.5,370.1 76,371.4 75.5,373.2 75.2,374.3 75,374.9 74.5,380.7 74,382.8 73.5,381.7 73,380.6 72.5,383.3 72,385.9 71.5,387 71,388.2 70.5,387.9 70,387.5 69.5,385.8 69,384 68.5,386.5 68.1,388.4 68,388.9 67.5,389.8 67,390.7 66.5,388.3 66,386 65.5,387.1 65,388.2 64.5,388.3 64,388.5 63.5,388.1 63.4,388.1 63,387.9 62.5,388.3 62,388.8 61.5,388.9 61,389 60.5,389.3 60,389.7 59.5,390.1 59,390.5 58.8,391.3 58.5,392 58,393.5 57.5,392.5 57,391.4 56.5,391.7 56,392 55.5,392.5 55,393 54.5,393.1 54,393.1 53.8,394.7 52.9,396.2 52,395.8 51.1,396.6 50.2,396.2 49.3,394.9 48.4,396.3" fill="#f2a385" stroke="#f2a385" stroke-width="1"/>
<polygon points="54,383.7 54.5,383.4 55,383.2 55.5,383 56,382.8 56.5,382.6 57,382.3 57.5,382.1 58,381.9 58.5,381.7 58.8,381.6 59,381.4 59.5,380.9 60,380.5 60.5,380.1 61,379.7 61.5,379.3 62,378.8 62.5,378.4 63,378 63.4,377.7 63.5,377.6 64,377.3 64.5,377.1 65,376.8 65.5,376.5 66,376.3 66.5,376 67,375.7 67.5,375.5 68,375.2 68.1,375.2 68.5,374.9 69,374.6 69.5,374.3 70,374 70.5,373.7 71,373.4 71.5,373 72,372.7 72.5,371.1 73,369.5 73.5,368 74,366.4 74.5,364.8 75,363.2 75.2,362.5 75.5,361.9 76,360.7 76.5,359.6 77,358.5 77.5,357.4 78,356.3 78.5,355.2 79,354.1 79.5,353 80,351.9 80.5,350.8 80.6,350.5 81,349.2 81.5,347.6 82,346 82.5,344.3 83,342.7 83.5,340.8 84,338.8 84.5,336.9 85,334.9 85.3,333.8 85.5,333.1 86,331.4 86.5,329.7 87,328.1 87.5,326.4 87.7,325.7 88,325.3 88.5,324.7 89,324 89.5,323.4 90,322.7 90.5,322.1 91,321.5 91.5,320.8 91.6,320.7 92,319.9 92.5,318.8 93,317.8 93.5,316.8 94,315.7 94.5,314.7 95,312.1 95.5,309.5 96,306.9 96.5,304.3 97,301.7 97.2,300.7 97.5,300 98,298.9 98.5,297.8 99,296.6 99.5,295.5 100,294.4 100.3,293.7 100.5,293.6 101,293.2 101.5,292.9 102,292.6 102.5,292.3 103,292 103.5,291.7 104,291.3 104.5,291 105,290.7 105.5,290.2 106,289.8 106.5,289.3 107,288.9 107.5,288.4 108,287.9 108.1,287.9 108.5,285.9 109,283.5 109.5,281 110,278.6 110.5,276.2 111,273.1 111.5,270.1 112,267 112.5,264 112.8,262.2 113,260.7 113.5,257 114,253.3 114.5,249.6 114.7,248.2 115,245.3 115.5,240.6 116,235.9 116.2,233.5 116.5,225.7 117,210.2 117.5,194.7 118,169.1 118.3,153.7 118.5,145.7 119,125.7 119.3,113.7 119.5,108.1 120,94 120.5,91.7 120.9,89.9 121,89.9 121.5,89.9 122,89.9 122.5,89.8 123,89.8 123.5,89.8 123.8,89.8 124,90.2 124.5,91.2 125,92.1 125.5,93.1 126,94 126.5,95 126.9,95.8 127,96 127.5,97.2 128,98.4 128.5,99.6 129,100.8 129.5,102 130,103.3 130.5,102 131,100.7 131.5,99.4 132,98.1 132.5,96.8 133,95.5 133.1,95.2 133.5,97.1 134,99.6 134.5,102 135,104.4 135.5,106.8 136,112.7 136.5,118.5 137,124.3 137.2,126.7 137.5,129.9 138,135.2 138.5,140.6 138.8,143.3 139,147 139.5,154.6 140,162.1 140.3,166.6 140.5,169.2 141,175.8 141.5,182.4 141.7,185.1 142,181.9 142.5,176.6 143,171.4 143.5,166.1 144,171 144.5,175.9 145,180.8 145.5,185.8 145.6,186.7 146,193.3 146.5,201.5 147,209.6 147.2,212.9 147.5,215.8 148,220.7 148.5,225.6 149,230.4 149.5,225.9 150,221.4 150.5,216.8 151,212.3 151.1,211.4 151.5,201.9 152,190.1 152.5,178.2 153,164.4 153.5,150.5 153.8,142.2 154,140.1 154.5,134.9 155,129.8 155.2,127.7 155.5,129.5 156,132.4 156.5,135.4 157,138.4 157.5,136.2 158,133.9 158.5,131.7 159,129.5 159.5,127.2 159.8,125.9 160,128.8 160.5,136.1 161,143.4 161.4,149.2 161.5,152.2 162,166.9 162.4,178.7 162.5,180.2 163,187.8 163.3,192.4 163.5,187.3 164,174.6 164.2,169.5 164.5,156.4 165,134.5 165.5,115.8 165.8,104.5 166,100.4 166.5,90.3 166.7,86.2 167,85.4 167.5,84.2 168,83 168.5,81.8 168.8,81.2 169,81.7 169.5,82.8 170,83.9 170.5,85 171,86 171.4,86.9 171.5,87.3 172,89.2 172.5,91.2 173,93.1 173.5,95.1 173.8,96 174,99.1 174.5,105.2 174.7,107.7 175,111.8 175.5,118.6 176,125.4 176.2,128.7 176.5,132.3 177,139.5 177.5,146.6 177.8,150.9 178,153.4 178.5,159.8 179,166.1 179.5,163.6 180,161.2 180.5,158.7 180.6,158.2 181,159.6 181.5,161.4 181.7,162.1 182,159.3 182.5,154.4 183,149.6 183.3,146.8 183.5,144.2 184,137.8 184.5,131.5 184.8,127.7 185,126.5 185.5,123.8 186,121 186.5,118.2 186.9,116 187,116.7 187.5,120.3 188,123.9 188.5,127.5 188.8,129.2 189,128.9 189.5,128.2 190,127.5 190.5,126.8 191,126.1 191.5,125.4 191.9,124.8 192,125.5 192.5,128.9 193,132.3 193.4,135 193.5,136.4 194,143.4 194.5,150.4 195,157.4 195.5,162.6 196,167.7 196.5,172.8 196.6,173.8 197,180.5 197.5,189 197.8,194 198,198 198.5,207.9 198.8,212.9 199,212 199.5,210.1 200,208.2 200.5,206.4 201,204.5 201.4,203.1 201.5,203.8 202,207.7 202.5,211.6 203,215.5 203.4,218.6 203.5,219.4 204,223.3 204.5,227.3 205,231.3 205.5,235.3 205.8,237.6 206,238.8 206.5,241.8 207,244.8 207.5,247.8 208,250.8 208.1,251.4 208.5,253.1 209,255.3 209.5,257.4 210,259.6 210.5,261.8 211,263.9 211.2,265 211.5,265.7 212,267.2 212.5,268.6 213,270 213.5,271.5 214,272.9 214.5,274.3 215,275.8 215.5,277.2 215.6,277.5 216,278.7 216.5,280.1 217,281.6 217.5,283 218,284.5 218.5,285.9 218.8,286.6 219,287.4 219.5,288.8 220,290.2 220.5,291.7 221,293.1 221.1,293.4 221.5,292.9 222,292.3 222.5,291.6 223,291 223.5,290.4 224,289.8 224.2,289.5 224.5,288.9 225,288 225.5,287 226,286 226.5,285.1 227,284.1 227.3,283.5 227.5,282.9 228,281.5 228.5,280 229,278.5 229.5,277.1 230,275.6 230.5,274.1 231,272.2 231.5,270.3 232,268.3 232.5,266.4 233,264.5 233.5,262.5 233.6,262.1 234,259.8 234.5,256.8 235,253.8 235.5,250.8 236,247.8 236.5,242.2 237,236.6 237.5,235.4 238,234.1 238.5,232.9 238.6,232.6 239,235 239.5,237.9 240,240.7 240.2,241.9 240.5,241.3 241,240.2 241.5,239.1 242,238 242.5,237 243,235.9 243.3,235.2 243.5,235.7 244,236.8 244.5,237.9 245,239 245.5,240.1 245.6,240.4 246,239.8 246.5,239 247,238.2 247.5,237.5 248,236.7 248.5,236 248.8,235.6 249,235.3 249.5,234.7 250,234 250.5,233.4 251,232.8 251.1,232.7 251.5,234.2 252,236.1 252.5,238.1 253,240 253.4,241.5 253.5,242 254,244.6 254.5,247.2 255,249.8 255.5,252.4 255.8,254 256,254.5 256.5,255.8 257,257.2 257.5,258.5 258,259.8 258.1,260.1 258.5,260.4 259,260.8 259.5,261.2 260,261.5 260.5,261.9 261,262.3 261.2,262.5 261.5,262.5 262,262.6 262.5,262.6 263,262.6 263.5,262.6 264,262.6 264.4,262.6 264.5,262.5 265,261.5 265.5,260.5 266,259.6 266.5,258.6 266.7,258.3 267,256.4 267.5,253.3 268,250.2 268.5,247.1 269,244 269.5,240.3 270,236.6 270.5,232.9 271,229.2 271.5,231.9 272,234.7 272.5,237.5 273,240.2 273.5,242 274,243.7 274.5,245.4 275,247.1 275.5,248.8 276,250.6 276.1,250.9 276.5,251.9 277,253 277.5,254.2 278,255.4 278.5,256.5 279,257.7 279.5,258.9 280,260.1 280.5,260.8 281,261.6 281.5,262.3 282,263.1 282.5,263.8 283,264.6 283.1,264.7 283.5,265.2 284,265.8 284.5,266.3 285,266.9 285.5,267.5 286,268 286.5,268.6 287,269.2 287.5,269.6 288,269.9 288.5,270.3 289,270.7 289.5,271.1 290,271.5 290.5,271.9 291,272.2 291.4,272.6 291.5,272.5 292,272.3 292.5,272.1 293,271.9 293.5,271.7 294,271.4 294.5,271.2 295,271 295.3,270.9 295.5,270.6 296,269.8 296.5,268.9 297,268.1 297.5,267.3 298,266.5 298.5,265.7 299,264.9 299.5,264.1 300,263.2 300.5,261.1 301,259 301.5,256.8 302,254.7 302.5,252.6 303,248.5 303.5,244.3 304,240.2 304.5,238 305,235.8 305.5,233.7 306,231.5 306.5,229.3 307,227.1 307.2,226.2 307.5,225.8 308,225.2 308.5,224.6 309,224 309.5,223.4 310,222.7 310.3,222.4 310.5,221.7 311,220.2 311.5,218.6 312,217.1 312.5,215.5 313,214 313.4,212.8 313.5,212.4 314,210.4 314.5,208.4 315,206.4 315.5,204.4 316,202.5 316.5,200.5 316.6,200.1 317,198.8 317.5,197.2 318,195.6 318.5,193.9 318.9,192.6 319,192.7 319.5,193 320,193.4 320.5,193.7 321,194 321.5,194.3 322,194.7 322.5,195.4 323,196 323.5,196.7 324,197.4 324.4,198 324.5,198.5 325,200.9 325.5,203.3 326,205.6 326.5,208 326.7,209 327,212.5 327.5,218.2 328,224 328.3,227.4 328.5,229.1 329,233.1 329.5,237.2 329.8,239.6 330,237.9 330.5,233.6 331,229.4 331.4,226 331.5,225.7 332,224.1 332.5,222.5 333,220.9 333.5,219.3 333.8,218.6 334,217.5 334.5,215.5 335,213.5 335.5,211.4 336,209.4 336.1,209 336.5,207.4 337,205.3 337.5,203.3 338,201.2 338.4,199.6 338.5,199.3 339,197.7 339.5,196.2 340,194.6 340.5,197.9 341,201.1 341.5,204.4 341.6,205 342,211.5 342.5,219.6 343,227.7 343.1,229.3 343.5,234.9 344,241.8 344.5,248.8 344.7,251.6 345,252.9 345.5,255.2 346,257.4 346.5,259.6 347,261.8 347.5,264 347.8,265.3 348,265.8 348.5,267.1 349,268.4 349.5,269.7 350,271 350.2,271.5 350.5,272.5 351,274.1 351.5,275.7 352,277.3 352.5,276.2 353,275.1 353.5,274 354,272.9 354.5,271 355,269.1 355.5,267.2 356,265.3 356.4,263.8 356.5,263.1 357,259.8 357.5,256.5 358,253.3 358.5,250 358.8,248.4 359,244.9 359.5,238 360,231.1 360.5,220 360.8,213.4 361,208.9 361.5,197.6 361.6,195.4 362,188.9 362.5,180.8 363,178.2 363.5,175.6 364,173 364.5,170.5 364.8,168.9 365,167 365.5,162.2 366,157.4 366.5,152.7 367,147.9 367.2,146 367.5,144.6 368,142.3 368.5,140 369,137.8 369.5,135.5 370,135.1 370.5,134.8 371,134.5 371.1,134.4 371.5,134.2 372,133.9 372.5,133.5 373,133.2 373.4,133 373.5,132.4 374,129.8 374.5,127.2 375,124.6 375.5,122 375.8,120.5 376,119.2 376.5,115.9 377,112.7 377.3,110.8 377.5,109.3 378,105.8 378.5,102.2 378.9,99.3 379,99.7 379.5,101.5 380,103.3 380.5,105.2 381,112 381.5,118.9 382,125.8 382.5,124.6 383,123.3 383.5,122.1 383.6,121.9 384,122.8 384.5,124.1 385,125.3 385.2,125.8 385.5,124.5 386,122.3 386.5,120.1 386.7,119.2 387,122.3 387.5,127.4 388,132.5 388.3,135.5 388.5,138.6 389,146.3 389.5,154 390,159.1 390.5,164.1 390.6,165.1 391,161.4 391.5,156.8 391.8,154 392,151.7 392.5,146 393,140.2 393.5,136.4 394,132.5 394.5,128.7 395,126.3 395.5,123.9 396,121.5 396.1,121 396.5,123.9 397,127.6 397.5,131.2 397.7,132.7 398,137.8 398.4,144.7 398.5,145.7 399,151.2 399.5,156.6 400,162 400.5,155 401,148.1 401.5,141.1 401.6,139.7 402,130.7 402.5,119.5 403,109.8 403.1,107.9 403.5,102.8 403.9,97.7 404,97.4 404.5,96.4 405,95.4 405.5,94.4 406,96.5 406.5,98.6 407,100.7 407.5,98.5 408,96.3 408.5,94 409,91.8 409.5,92.2 410,92.6 410.5,93 411,93.4 411.5,98.2 412,103 412.5,107.7 413,113.2 413.5,118.6 414,124 414.5,134.1 414.8,140.2 415,141.9 415.5,146.2 416,150.5 416.5,154.8 417,159.1 417.2,160.8 417.5,160.4 418,159.6 418.5,158.9 419,158.2 419.5,157.4 420,156.8 420.5,156.1 421,155.5 421.1,155.4 421.5,155.8 422,156.4 422.5,156.9 422.7,157.2 423,160.2 423.5,165.2 424,170.2 424.2,172.3 424.5,176.3 425,183.1 425.5,189.9 425.8,194 426,198.8 426.5,210.9 426.9,220.6 427,221.6 427.5,226.3 428,231.1 428.5,235.9 428.9,239.7 429,240.5 429.5,244.4 430,248.2 430.5,252.1 431,256 431.5,255.4 432,254.8 432.5,254.1 433,253.5 433.5,252.9 433.6,252.7 434,250.4 434.5,247.6 435,244.7 435.5,241.8 436,239 436.5,242 437,245 437.5,248.1 438,249.8 438.5,251.5 439,253.2 439.5,255 439.8,256 440,256.7 440.5,258.6 441,260.4 441.5,262.2 442,264 442.2,264.7 442.5,265.6 443,267.1 443.5,268.5 443.8,269.3 444,269.6 444.5,270.1 444.6,270.3 444.6,276.7 444.5,276.6 444,276 443.8,275.7 443.5,275 443,273.5 442.5,272 442.2,271.2 442,270.7 441.5,269.6 441,268.4 440.5,267.3 440,266.2 439.8,265.7 439.5,264.5 439,262.6 438.5,260.6 438,258.6 437.5,256.6 437,253.9 436.5,251.2 436,248.5 435.5,251.2 435,253.8 434.5,256.5 434,259.1 433.6,261.3 433.5,261.4 433,262.3 432.5,263.2 432,264 431.5,264.9 431,265.7 430.5,262.5 430,259.3 429.5,256.1 429,252.9 428.9,252.3 428.5,249.6 428,246.2 427.5,242.8 427,239.4 426.9,238.7 426.5,228.4 426,215.6 425.8,210.4 425.5,205.3 425,196.7 424.5,188.1 424.2,183 424,181.3 423.5,176.9 423,172.6 422.7,170 422.5,169.6 422,168.7 421.5,167.8 421.1,167.1 421,167.4 420.5,168.7 420,170 419.5,171.3 419,172.3 418.5,173.2 418,174.2 417.5,175.2 417.2,175.8 417,174.4 416.5,170.9 416,167.5 415.5,164 415,160.6 414.8,159.2 414.5,152.1 414,140.4 413.5,134.1 413,127.9 412.5,121.6 412,116.5 411.5,111.4 411,106.3 410.5,105.8 410,105.4 409.5,105 409,104.6 408.5,107.9 408,111.2 407.5,114.5 407,117.8 406.5,114.4 406,111.1 405.5,107.7 405,107.9 404.5,108.1 404,108.3 403.9,108.3 403.5,114.7 403.1,121.1 403,123.5 402.5,135.5 402,147.2 401.6,156.6 401.5,157.8 401,163.8 400.5,169.9 400,176 399.5,171.4 399,166.8 398.5,162.3 398.4,161.3 398,152.6 397.7,146.1 397.5,145.1 397,142.7 396.5,140.2 396.1,138.2 396,138.7 395.5,140.9 395,143.1 394.5,145.3 394,150 393.5,154.6 393,159.2 392.5,162.9 392,166.5 391.8,168 391.5,170.6 391,174.9 390.6,178.4 390.5,177.5 390,172.7 389.5,168 389,162.9 388.5,157.8 388.3,155.8 388,151.9 387.5,145.6 387,139.3 386.7,135.5 386.5,135.6 386,136 385.5,136.5 385.2,136.7 385,136.6 384.5,136.4 384,136.1 383.6,135.9 383.5,136 383,136.2 382.5,136.5 382,136.7 381.5,131.6 381,126.5 380.5,121.4 380,119.1 379.5,116.7 379,114.3 378.9,113.9 378.5,116.4 378,119.6 377.5,122.8 377.3,124.1 377,126.3 376.5,130 376,133.7 375.8,135.2 375.5,136.8 375,139.4 374.5,142 374,144.6 373.5,147.2 373.4,147.7 373,147.9 372.5,148.2 372,148.4 371.5,148.7 371.1,148.9 371,149 370.5,149.8 370,150.6 369.5,151.3 369,152.7 368.5,154.1 368,155.5 367.5,156.9 367.2,157.8 367,159.8 366.5,164.9 366,170.1 365.5,175.2 365,180.3 364.8,182.3 364.5,183.3 364,184.9 363.5,186.5 363,188.1 362.5,189.7 362,199.1 361.6,206.6 361.5,208.9 361,220.1 360.8,224.6 360.5,230.7 360,240.9 359.5,247.3 359,253.7 358.8,256.9 358.5,258.5 358,261.5 357.5,264.6 357,267.6 356.5,270.6 356.4,271.2 356,272.6 355.5,274.3 355,276 354.5,277.7 354,279.3 353.5,280.2 353,281 352.5,281.9 352,282.7 351.5,281.7 351,280.7 350.5,279.7 350.2,279.1 350,278.6 349.5,277.3 349,275.9 348.5,274.6 348,273.3 347.8,272.8 347.5,271.9 347,270.5 346.5,269.1 346,267.6 345.5,266.2 345,264.7 344.7,263.9 344.5,260.8 344,253 343.5,245.2 343.1,239 343,237.6 342.5,230.5 342,223.5 341.6,217.8 341.5,217.2 341,213.8 340.5,210.4 340,207 339.5,207.7 339,208.4 338.5,209.1 338.4,209.2 338,210.8 337.5,212.9 337,214.9 336.5,217 336.1,218.6 336,219.1 335.5,221.3 335,223.6 334.5,225.9 334,228.1 333.8,229.2 333.5,229.9 333,231.3 332.5,232.7 332,234.1 331.5,235.5 331.4,235.7 331,238.7 330.5,242.3 330,246 329.8,247.4 329.5,245.1 329,241.3 328.5,237.5 328.3,236 328,232.7 327.5,227.3 327,221.9 326.7,218.6 326.5,217.6 326,215.3 325.5,212.9 325,210.5 324.5,208.1 324.4,207.6 324,206.9 323.5,206 323,205.1 322.5,204.2 322,203.2 321.5,203.2 321,203.1 320.5,203.1 320,203 319.5,202.9 319,202.9 318.9,202.9 318.5,204.4 318,206.4 317.5,208.3 317,210.3 316.6,211.8 316.5,212.2 316,214.4 315.5,216.6 315,218.7 314.5,220.9 314,223 313.5,225.2 313.4,225.6 313,227 312.5,228.7 312,230.3 311.5,232 311,233.7 310.5,235.4 310.3,236 310,236.1 309.5,236.2 309,236.4 308.5,236.5 308,236.6 307.5,236.7 307.2,236.8 307,237.7 306.5,239.8 306,242 305.5,244.2 305,246.4 304.5,248.6 304,250.8 303.5,254 303,257.2 302.5,260.4 302,262.3 301.5,264.1 301,266 300.5,267.8 300,269.7 299.5,270.4 299,271.2 298.5,272 298,272.7 297.5,273.5 297,274.3 296.5,275 296,275.8 295.5,276.6 295.3,276.9 295,277 294.5,277.3 294,277.6 293.5,277.8 293,278.1 292.5,278.4 292,278.7 291.5,278.9 291.4,279 291,278.7 290.5,278.2 290,277.8 289.5,277.4 289,277 288.5,276.6 288,276.2 287.5,275.7 287,275.3 286.5,274.8 286,274.3 285.5,273.7 285,273.2 284.5,272.7 284,272.1 283.5,271.6 283.1,271.2 283,271 282.5,270.3 282,269.5 281.5,268.8 281,268 280.5,267.2 280,266.5 279.5,265.5 279,264.4 278.5,263.4 278,262.4 277.5,261.4 277,260.3 276.5,259.3 276.1,258.5 276,258.2 275.5,256.6 275,255 274.5,253.5 274,251.9 273.5,250.3 273,248.8 272.5,246.7 272,244.6 271.5,242.5 271,240.4 270.5,242.7 270,244.9 269.5,247.2 269,249.5 268.5,252.8 268,256.1 267.5,259.4 267,262.7 266.7,264.7 266.5,265.3 266,266.6 265.5,267.9 265,269.2 264.5,270.5 264.4,270.8 264,270.7 263.5,270.6 263,270.5 262.5,270.4 262,270.3 261.5,270.2 261.2,270.2 261,269.9 260.5,269.3 260,268.7 259.5,268.1 259,267.5 258.5,267 258.1,266.5 258,266.3 257.5,265.2 257,264.1 256.5,263 256,261.9 255.8,261.5 255.5,259.9 255,257.3 254.5,254.7 254,252.1 253.5,249.5 253.4,249 253,247.8 252.5,246.4 252,244.9 251.5,243.5 251.1,242.3 251,242.4 250.5,242.8 250,243.2 249.5,243.6 249,244 248.8,244.2 248.5,244.6 248,245.5 247.5,246.3 247,247.1 246.5,247.9 246,248.8 245.6,249.4 245.5,249.4 245,249.3 244.5,249.2 244,249.1 243.5,249.1 243.3,249 243,249.2 242.5,249.6 242,249.9 241.5,250.2 241,250.6 240.5,250.9 240.2,251.1 240,250 239.5,247.1 239,244.3 238.6,242.1 238.5,242.1 238,242.4 237.5,242.7 237,243.1 236.5,249.8 236,256.6 235.5,259.5 235,262.5 234.5,265.4 234,268.3 233.6,270.7 233.5,271 233,272.6 232.5,274.2 232,275.8 231.5,277.4 231,279 230.5,280.6 230,282 229.5,283.5 229,285 228.5,286.4 228,287.9 227.5,289.4 227.3,289.9 227,290.4 226.5,291.2 226,292.1 225.5,292.9 225,293.7 224.5,294.5 224.2,295 224,295.2 223.5,295.8 223,296.5 222.5,297.1 222,297.7 221.5,298.3 221.1,298.8 221,298.6 220.5,297.3 220,296.1 219.5,294.9 219,293.7 218.8,293.1 218.5,292.4 218,291.1 217.5,289.9 217,288.6 216.5,287.3 216,286 215.6,285 215.5,284.7 215,283.3 214.5,281.8 214,280.4 213.5,279 213,277.5 212.5,276.1 212,274.7 211.5,273.2 211.2,272.5 211,271.6 210.5,269.8 210,267.9 209.5,266.1 209,264.3 208.5,262.5 208.1,261 208,260.5 207.5,257.7 207,254.9 206.5,252.1 206,249.4 205.8,248.3 205.5,245.7 205,241.5 204.5,237.3 204,233.1 203.5,228.9 203.4,228 203,225 202.5,221.2 202,217.5 201.5,213.7 201.4,212.9 201,214.6 200.5,216.7 200,218.8 199.5,220.1 199,221.4 198.8,222.1 198.5,218.4 198,211 197.8,208 197.5,202.4 197,193 196.6,185.5 196.5,184.3 196,178.2 195.5,172.1 195,166 194.5,160.3 194,154.7 193.5,149 193.4,147.8 193,146 192.5,143.6 192,141.3 191.9,140.8 191.5,141.2 191,141.8 190.5,142.3 190,142.8 189.5,143.4 189,143.9 188.8,144.2 188.5,141.9 188,137.5 187.5,133.1 187,128.6 186.9,127.8 186.5,130.6 186,134.1 185.5,137.7 185,141.2 184.8,142.6 184.5,145.4 184,150 183.5,154.6 183.3,156.4 183,159.1 182.5,163.5 182,168 181.7,170.7 181.5,170.5 181,170.2 180.6,169.9 180.5,170.4 180,173.1 179.5,175.7 179,178.4 178.5,172.7 178,167 177.8,164.8 177.5,160.3 177,152.8 176.5,145.3 176.2,141.6 176,137.6 175.5,129.8 175,122 174.7,117.3 174.5,116.4 174,114.3 173.8,113.2 173.5,111.7 173,108.6 172.5,105.5 172,102.4 171.5,99.3 171.4,98.7 171,98.1 170.5,97.4 170,96.7 169.5,96.1 169,95.4 168.8,95 168.5,95.7 168,97.1 167.5,98.6 167,100 166.7,100.8 166.5,105.2 166,116.1 165.8,120.5 165.5,131.8 165,150.5 164.5,172.4 164.2,185.5 164,188.6 163.5,196.5 163.3,199.6 163,196.8 162.5,192.2 162.4,191.3 162,182.6 161.5,171.7 161.4,169.5 161,162.1 160.5,152.8 160,143.5 159.8,139.8 159.5,141.1 159,143.3 158.5,145.6 158,147.8 157.5,150 157,152.3 156.5,149.6 156,147 155.5,144.3 155.2,142.7 155,144.2 154.5,147.8 154,151.3 153.8,152.8 153.5,161.1 153,174.9 152.5,188.8 152,200.9 151.5,213 151.1,222.6 151,223.3 150.5,226.9 150,230.5 149.5,234 149,237.6 148.5,233.3 148,229 147.5,224.7 147.2,222.1 147,218.7 146.5,210.4 146,202 145.6,195.3 145.5,194.5 145,190.4 144.5,186.4 144,182.4 143.5,178.4 143,183 142.5,187.6 142,192.2 141.7,194.9 141.5,192.9 141,187.9 140.5,182.9 140.3,180.9 140,176.5 139.5,169.2 139,161.9 138.8,158.2 138.5,154.9 138,148.1 137.5,141.4 137.2,137.3 137,135.8 136.5,131.9 136,128.1 135.5,124.2 135,122.4 134.5,120.6 134,118.8 133.5,116.9 133.1,115.5 133,115.6 132.5,116 132,116.5 131.5,116.9 131,117.4 130.5,117.8 130,118.2 129.5,117.2 129,116.1 128.5,115.1 128,114.1 127.5,113 127,112 126.9,111.8 126.5,111.1 126,110.3 125.5,109.6 125,108.8 124.5,108 124,107.2 123.8,106.8 123.5,106.6 123,106.2 122.5,105.7 122,105.3 121.5,104.8 121,104.4 120.9,104.3 120.5,105.9 120,108 119.5,121.1 119.3,126.3 119,138.3 118.5,158.3 118.3,166.3 118,180.2 117.5,203.3 117,220.6 116.5,237.9 116.2,246.5 116,248.7 115.5,252.9 115,257.2 114.7,259.8 114.5,261.3 114,265 113.5,268.7 113,272.4 112.8,273.8 112.5,275.7 112,278.7 111.5,281.7 111,284.8 110.5,287.8 110,290 109.5,292.1 109,294.3 108.5,296.4 108.1,298.1 108,298.2 107.5,298.6 107,298.9 106.5,299.3 106,299.6 105.5,300 105,300.3 104.5,300.6 104,300.9 103.5,301.3 103,301.6 102.5,301.9 102,302.2 101.5,302.5 101,302.9 100.5,303.2 100.3,303.3 100,304 99.5,305.1 99,306.2 98.5,307.4 98,308.5 97.5,309.6 97.2,310.3 97,311.3 96.5,313.9 96,316.5 95.5,319.1 95,321.7 94.5,324.3 94,325.3 93.5,326.4 93,327.4 92.5,328.4 92,329.5 91.6,330.3 91.5,330.4 91,331.1 90.5,331.7 90,332.4 89.5,333 89,333.6 88.5,334.3 88,334.9 87.7,335.3 87.5,336 87,337.8 86.5,339.5 86,341.3 85.5,343 85.3,343.7 85,344.8 84.5,346.7 84,348.6 83.5,350.4 83,352.3 82.5,353.8 82,355.3 81.5,356.8 81,358.3 80.6,359.5 80.5,359.7 80,360.7 79.5,361.6 79,362.6 78.5,363.6 78,364.6 77.5,365.6 77,366.9 76.5,368.2 76,369.4 75.5,370.7 75.2,371.5 75,371.9 74.5,373 74,374 73.5,375.1 73,376.1 72.5,377.2 72,378.3 71.5,378.5 71,378.8 70.5,379.1 70,379.3 69.5,379.6 69,379.9 68.5,380.1 68.1,380.3 68,380.4 67.5,380.7 67,380.9 66.5,381.2 66,381.5 65.5,381.7 65,382 64.5,382.3 64,382.5 63.5,382.8 63.4,382.8 63,383.2 62.5,383.5 62,383.9 61.5,384.3 61,384.7 60.5,385.1 60,385.5 59.5,385.8 59,386.2 58.8,386.4 58.5,386.6 58,386.8 57.5,387.1 57,387.3 56.5,387.6 56,387.8 55.5,388.1 55,388.3 54.5,388.6 54,388.8" fill="#1c2a6b" stroke="#1c2a6b" stroke-width="1.2"/>
<polyline points="54,390.9 55,381.1 56.1,389.7 57.1,380.6 58.2,388.3 59.2,379.6 60.3,387.2 61.3,377.6 62.4,385.7 63.4,376.5 64.5,384 65.5,374.1 66.6,382.7 67.6,373.4 68.7,382 69.7,372.5 70.8,381.5 71.8,371.1 72.9,378.9 73.9,364.9 75,373.3 76,357.5 77.1,369 78.1,354.6 79.2,364.5 80.2,348.9 81.3,360.4 82.3,343.2 83.4,352.8 84.4,333.5 85.5,346.2 86.5,327.8 87.6,337.9 88.6,322.2 89.7,335.7 90.7,318.9 91.8,333.2 92.8,314.8 93.9,328.2 94.9,309.2 96,319.6 97,298.3 98.1,310.8 99.1,293.1 100.2,306.6 101.2,289.6 102.3,303.7 103.3,288.4 104.4,301.8 105.4,287.1 106.5,302.1 107.5,285.7 108.6,299.7 109.6,277.3 110.7,289.3 111.7,265 112.8,277.6 113.8,251.2 114.9,260.7 115.9,233.4 117,223.2 118,163.1 119.1,136.8 120.1,90.4 121.2,108.1 122.2,86.7 123.3,109.5 124.3,86.2 125.4,114.2 126.4,91.3 127.5,116.4 128.5,97.4 129.6,120.2 130.6,99.4 131.7,120.9 132.7,91.6 133.8,120.1 134.8,98.3 135.9,130.2 136.9,120 138,152.1 139,143.1 140.1,180.3 141.1,175.1 142.2,194 143.2,167.5 144.3,186.2 145.3,181.6 146.4,211.2 147.4,212 148.5,236.1 149.5,222.9 150.6,229.9 151.6,195.5 152.7,186.1 153.7,140.4 154.8,148.5 155.8,128.6 156.9,155.3 157.9,131.4 159,147.8 160,125.6 161.1,168.1 162.1,169.5 163.2,200.8 164.2,164.1 165.3,143 166.3,89.6 167.4,103.2 168.4,77.4 169.5,99.2 170.5,82.2 171.6,103.3 172.6,87 173.7,116.1 174.7,105.7 175.8,138.2 176.8,135.2 177.9,168.6 178.9,161.3 180,176.8 181,157 182.1,168.7 183.1,144.8 184.2,151.8 185.2,120.9 186.3,136.3 187.3,115.2 188.4,144.1 189.4,126.1 190.5,145.1 191.5,121.7 192.6,147.5 193.6,136.4 194.7,164.4 195.7,162.1 196.8,192.5 197.8,192.2 198.9,225.2 199.9,205.3 201,216 202,205.7 203.1,229 204.1,222.3 205.2,246.4 206.2,239.2 207.3,258.8 208.3,249.2 209.4,268.4 210.4,258.9 211.5,274.9 212.5,266.4 213.6,281.7 214.6,272.9 215.7,287.8 216.7,278.5 217.8,293.5 218.8,284.7 219.9,297.8 220.9,291.6 222,299.1 223,288.6 224.1,296.5 225.1,286.3 226.2,293.3 227.2,281.4 228.3,289.6 229.3,275.2 230.4,283.4 231.4,269.1 232.5,275.3 233.5,259.4 234.6,266.9 235.6,247 236.7,249.1 237.7,233.1 238.8,245.2 239.8,238.3 240.9,254.2 241.9,235 243,252 244,234 245.1,251.8 246.1,238.2 247.2,250 248.2,233.7 249.3,247.1 250.3,231.2 251.4,246 252.4,236 253.5,250.8 254.5,244.5 255.6,263.3 256.6,254.3 257.7,268.4 258.7,257.9 259.8,270.4 260.8,259.7 261.9,273.4 262.9,260.2 264,273.8 265,259.6 266.1,268.3 267.1,253 268.2,256.4 269.2,240.4 270.3,246.8 271.3,228.3 272.4,249.4 273.4,239.9 274.5,255.2 275.5,246.9 276.6,261.2 277.6,251.6 278.7,265.7 279.7,257.2 280.8,269.1 281.8,260.7 282.9,272.8 283.9,263.7 285,274.5 286,266.7 287.1,278 288.1,268.2 289.2,278.9 290.2,270.1 291.3,280.7 292.3,270.5 293.4,279.1 294.4,268.9 295.5,278.4 296.5,267.4 297.6,275.7 298.6,264.1 299.7,271.9 300.7,257.3 301.8,264.5 302.8,247.4 303.9,254.9 304.9,232.6 306,243.9 307,224.5 308.1,240 309.1,221.1 310.2,240.5 311.2,217.2 312.3,233.6 313.3,209.8 314.4,223.6 315.4,201.8 316.5,214.1 317.5,193.7 318.6,206.2 319.6,189.7 320.7,205.8 321.7,192.3 322.8,206.7 323.8,194.4 324.9,211.9 325.9,202 327,223.5 328,222 329.1,244.6 330.1,234.7 331.2,240.3 332.2,220.9 333.3,233.6 334.3,213.2 335.4,224 336.4,205.2 337.5,214.4 338.5,197.3 339.6,211.3 340.6,196.3 341.7,222.8 342.7,221.9 343.8,252.8 344.8,249.7 345.9,270.1 346.9,259.5 348,274.7 349,266.6 350.1,280.6 351.1,273.1 352.2,284.7 353.2,272.8 354.3,280.3 355.3,264.9 356.4,274 357.4,253.8 358.5,261.6 359.5,235.6 360.6,230.9 361.6,193.2 362.7,192 363.7,171.1 364.8,185.1 365.8,156 366.9,164.2 367.9,138.9 369,155.3 370,130.6 371.1,151.7 372.1,130 373.2,150.1 374.2,126.6 375.3,142.4 376.3,112.9 377.4,127.3 378.4,101 379.5,118.2 380.5,103.6 381.6,134.8 382.6,121.7 383.7,138.9 384.7,123.3 385.8,138.8 386.8,116.6 387.9,153.3 388.9,140.7 390,176.2 391,157.1 392.1,168.4 393.1,135.3 394.2,152.5 395.2,121.9 396.3,140.4 397.3,125.8 398.4,165.9 399.4,153.4 400.5,171.5 401.5,135.5 402.6,137 403.6,99.4 404.7,110.3 405.7,93.5 406.8,121 407.8,94.5 408.9,109.5 409.9,88.8 411,108 412,99.7 413.1,132.2 414.1,122.5 415.2,167.1 416.2,149.8 417.3,177.4 418.3,154.5 419.4,174.5 420.4,152.1 421.5,171.3 422.5,153.3 423.6,181.5 424.6,175 425.7,212.1 426.7,215.2 427.8,249 428.8,236.3 429.9,261.6 430.9,252.1 432,265.7 433,250.4 434.1,259.9 435.1,240.9 436.2,252.8 437.2,244.6 438.3,262.4 439.3,250.9 440.4,269.9 441.4,259.6 442.5,273.8 443.5,267.4 444.6,278.7" fill="none" stroke="#1c2a6b" stroke-width="1.35"/>
</g>
<path d="M114.2 475.8v-4.0M114.2 46.2v4.0M180.3 475.8v-4.0M180.3 46.2v4.0M246.4 475.8v-4.0M246.4 46.2v4.0M312.5 475.8v-4.0M312.5 46.2v4.0M378.6 475.8v-4.0M378.6 46.2v4.0M61.3 475.8v-2.0M61.3 46.2v2.0M74.5 475.8v-2.0M74.5 46.2v2.0M87.8 475.8v-2.0M87.8 46.2v2.0M101 475.8v-2.0M101 46.2v2.0M127.4 475.8v-2.0M127.4 46.2v2.0M140.6 475.8v-2.0M140.6 46.2v2.0M153.8 475.8v-2.0M153.8 46.2v2.0M167.1 475.8v-2.0M167.1 46.2v2.0M193.5 475.8v-2.0M193.5 46.2v2.0M206.7 475.8v-2.0M206.7 46.2v2.0M219.9 475.8v-2.0M219.9 46.2v2.0M233.2 475.8v-2.0M233.2 46.2v2.0M259.6 475.8v-2.0M259.6 46.2v2.0M272.8 475.8v-2.0M272.8 46.2v2.0M286 475.8v-2.0M286 46.2v2.0M299.2 475.8v-2.0M299.2 46.2v2.0M325.7 475.8v-2.0M325.7 46.2v2.0M338.9 475.8v-2.0M338.9 46.2v2.0M352.1 475.8v-2.0M352.1 46.2v2.0M365.3 475.8v-2.0M365.3 46.2v2.0M391.8 475.8v-2.0M391.8 46.2v2.0M405 475.8v-2.0M405 46.2v2.0M418.2 475.8v-2.0M418.2 46.2v2.0M431.4 475.8v-2.0M431.4 46.2v2.0M48.1 332.6h4.0M444.6 332.6h-4.0M48.1 189.4h4.0M444.6 189.4h-4.0M48.1 447.1h2.0M444.6 447.1h-2.0M48.1 418.5h2.0M444.6 418.5h-2.0M48.1 389.8h2.0M444.6 389.8h-2.0M48.1 361.2h2.0M444.6 361.2h-2.0M48.1 303.9h2.0M444.6 303.9h-2.0M48.1 275.3h2.0M444.6 275.3h-2.0M48.1 246.7h2.0M444.6 246.7h-2.0M48.1 218h2.0M444.6 218h-2.0M48.1 160.7h2.0M444.6 160.7h-2.0M48.1 132.1h2.0M444.6 132.1h-2.0M48.1 103.5h2.0M444.6 103.5h-2.0M48.1 74.8h2.0M444.6 74.8h-2.0" stroke="#333" stroke-width="1" fill="none"/><rect x="48.1" y="46.2" width="396.5" height="429.6" fill="none" stroke="#333" stroke-width="1.2"/>
<text transform="translate(47.7 492.3) scale(1.005 1.055)" text-anchor="middle">0</text>
<text transform="translate(113.79 492.3) scale(1.005 1.055)" text-anchor="middle">100</text>
<text transform="translate(179.88 492.3) scale(1.005 1.055)" text-anchor="middle">200</text>
<text transform="translate(245.97 492.3) scale(1.005 1.055)" text-anchor="middle">300</text>
<text transform="translate(312.07 492.3) scale(1.005 1.055)" text-anchor="middle">400</text>
<text transform="translate(378.16 492.3) scale(1.005 1.055)" text-anchor="middle">500</text>
<text transform="translate(444.25 492.3) scale(1.005 1.055)" text-anchor="middle">600</text>
<text transform="translate(44.9 480.9) scale(1.005 1.055)" text-anchor="end">0</text>
<text transform="translate(44.9 337.72) scale(1.005 1.055)" text-anchor="end">500</text>
<text transform="translate(44.9 194.53) scale(1.005 1.055)" text-anchor="end">1000</text>
<text transform="translate(44.9 51.35) scale(1.005 1.055)" text-anchor="end">1500</text>
<text transform="translate(247.6 509.3) scale(1.0 1.055)" text-anchor="middle" letter-spacing="0.1">Time (s)</text>
<text transform="translate(9.9 261.4) rotate(-90) scale(1.0 1.055)" text-anchor="middle" letter-spacing="0.09">Mechanical torque (kNm)</text>
<clipPath id="ct"><rect x="508.4" y="46.4" width="166.1" height="191.8"/></clipPath>
<g stroke="#c2c2c2" stroke-width="1" stroke-dasharray="1.7 5.07" fill="none"><path d="M516.7 46.4V238.2M525 46.4V238.2M533.3 46.4V238.2M541.6 46.4V238.2M549.9 46.4V238.2M558.2 46.4V238.2M566.5 46.4V238.2M574.8 46.4V238.2M583.1 46.4V238.2M591.5 46.4V238.2M599.8 46.4V238.2M608.1 46.4V238.2M616.4 46.4V238.2M624.7 46.4V238.2M633 46.4V238.2M641.3 46.4V238.2M649.6 46.4V238.2M657.9 46.4V238.2M666.2 46.4V238.2" stroke-dashoffset="5.0"/><path d="M508.4 232.1H674.5M508.4 225.9H674.5M508.4 219.8H674.5M508.4 213.7H674.5M508.4 207.5H674.5M508.4 201.4H674.5M508.4 195.2H674.5M508.4 189.1H674.5M508.4 183H674.5M508.4 176.8H674.5M508.4 170.7H674.5M508.4 164.6H674.5M508.4 158.4H674.5M508.4 152.3H674.5M508.4 146.2H674.5M508.4 140H674.5M508.4 133.9H674.5M508.4 127.8H674.5M508.4 121.6H674.5M508.4 115.5H674.5M508.4 109.3H674.5M508.4 103.2H674.5M508.4 97.1H674.5M508.4 90.9H674.5M508.4 84.8H674.5M508.4 78.7H674.5M508.4 72.5H674.5M508.4 66.4H674.5M508.4 60.3H674.5M508.4 54.1H674.5M508.4 48H674.5" stroke-dashoffset="4.5"/></g>
<g clip-path="url(#ct)">
<polygon points="508.3,206 509.3,205.4 510.3,204.8 511.3,204.2 511.8,204.1 512.8,205.2 513.8,206.2 514.8,207.3 515.8,209.9 516.8,212.5 517.3,214 518.3,218.1 519.3,222.2 519.8,223.3 520.8,224.2 521.3,224 522.3,221.6 523.3,219.2 523.8,218.6 524.8,217.7 525.8,216.7 526.8,214.7 527.8,212.6 528.3,212 529.3,212 530.3,212 531.2,212 531.8,212 532.8,212 533.8,212 534.4,212 535.3,211.4 536.3,210.7 536.8,209.6 537.8,201.9 538.8,195.3 539.8,190 540.8,183.3 541.4,179.2 542.3,173.9 543,169.8 543.8,164.6 544.5,160 545,154.5 545.8,150.9 546.8,146.3 547.8,141.8 548.3,139.7 549.3,136.2 550.3,132.8 551.2,129.5 551.8,127.8 552.8,124.8 553.8,121.8 554.4,120 555.3,118 556.3,115.7 557.3,113.5 557.8,112.5 558.8,110.9 559.8,109.2 560.8,112.4 561.8,115.7 562.3,117.3 563.3,119.8 564.3,122.3 565.3,124.8 566.3,127.3 567.3,129.8 568.3,132.3 568.8,132.6 569.8,132.6 570.8,132.6 571.8,129.9 572.8,127.2 573.3,125.9 574.3,123.4 575.3,121 576.2,118.6 576.8,117.7 577.8,116.1 578.8,114.5 579.8,112.9 580.3,112.5 581.3,114.5 582.3,116.6 582.8,116.4 583.8,114.4 584.8,112.4 585.6,110.8 586.3,111.4 587.2,112.3 587.8,111.6 588.8,110.5 589.8,109.4 590.3,110.2 591.3,113.4 591.9,115.4 592.8,119.7 593.8,124.5 594.3,126.9 595.3,132.2 596.3,137.4 596.8,140.2 597.8,146.3 598.8,152.4 599.3,154.6 600.3,158.5 601.2,162.3 601.8,165.3 602.8,170.9 603.3,173 604.3,176.4 605.3,179.8 606.3,180.5 607.3,181.1 607.8,181.5 608.8,182.2 609.8,182.9 610.3,182.4 611.3,180.4 612.3,178.4 612.8,176.6 613.8,172.6 614.7,169 615.3,164.3 616.3,156.4 617.3,147.5 618.3,138.4 619.3,129.2 619.8,123.1 620.5,114 621.3,103.8 621.8,97.9 622.5,90.4 623.3,85 624.1,79.5 624.8,76.8 625.7,73.2 626.3,72 627.3,70 628,68.6 628.8,67.8 629.8,66.7 630.8,65.7 631.3,65.1 632.3,63.6 633.3,62.2 634.2,60.8 634.8,60.2 635.8,59.2 636.8,58.2 637.4,57.6 638.3,59 639.3,60.5 640.3,62 640.8,62.6 641.8,63.6 642.8,64.6 643.6,65.4 644.3,65.4 645.3,65.4 646.3,65.4 646.8,65.5 647.8,66.5 648.8,67.5 649.8,68.5 650.3,69 651.3,70 652.3,71 653,71.7 653.8,72.1 654.8,72.6 655.8,73.1 656.3,73.2 657.3,72.7 658.3,72.2 659.2,71.7 659.8,70.8 660.8,69.2 661.8,67.6 662.8,66 663.3,65.6 664.3,67.6 665.3,69.6 665.8,70.2 666.8,70.7 667.8,71.3 668.6,71.7 669.3,72.4 670.3,73.4 671.3,74.4 671.8,74.9 672.8,76.9 673.8,78.8 674.8,80.8 674.8,87.8 673.8,87.1 672.8,86 671.8,84.9 671.3,84.5 670.3,83.7 669.3,82.1 668.6,81 667.8,80.5 666.8,80 665.8,79.8 665.3,79.7 664.3,79 663.3,78 662.8,78.3 661.8,79.6 660.8,80.5 659.8,81 659.2,81.3 658.3,81.4 657.3,81.5 656.3,81.7 655.8,81.5 654.8,80.7 653.8,80.2 653,80.5 652.3,80.9 651.3,80.5 650.3,80.1 649.8,80 648.8,79.7 647.8,78.1 646.8,76.5 646.3,76.2 645.3,75.7 644.3,75.7 643.6,75.9 642.8,75.6 641.8,74.8 640.8,74.2 640.3,73.8 639.3,72.8 638.3,71.7 637.4,70.9 636.8,71.3 635.8,71.8 634.8,71.7 634.2,71.7 633.3,72.8 632.3,73.9 631.3,75.3 630.8,76.1 629.8,77.9 628.8,79.7 628,81.1 627.3,82.7 626.3,83.9 625.7,84.5 624.8,88.5 624.1,92 623.3,97.6 622.5,103.6 621.8,111.5 621.3,117.1 620.5,126.3 619.8,135 619.3,140.8 618.3,150.1 617.3,158.4 616.3,166.3 615.3,173.6 614.7,178 613.8,180.7 612.8,183.5 612.3,185.1 611.3,188.3 610.3,191 609.8,191.6 608.8,190.7 607.8,190.3 607.3,189.7 606.3,188.4 605.3,186.9 604.3,184.6 603.3,182.3 602.8,180.4 601.8,174.5 601.2,171.6 600.3,167.6 599.3,162.8 598.8,160.3 597.8,155.4 596.8,150.7 596.3,148.3 595.3,143.4 594.3,138.4 593.8,135.9 592.8,130.6 591.9,125.2 591.3,122.8 590.3,119.7 589.8,119.2 588.8,120.8 587.8,122.4 587.2,123.3 586.3,123.7 585.6,123.8 584.8,124.6 583.8,125.8 582.8,128.2 582.3,128.8 581.3,127.9 580.3,127 579.8,126.8 578.8,126.7 577.8,127.1 576.8,127.5 576.2,128.5 575.3,132 574.3,134.4 573.3,135.9 572.8,136.6 571.8,137.8 570.8,139.6 569.8,141.5 568.8,142 568.3,141.5 567.3,138.6 566.3,137 565.3,134.8 564.3,132.4 563.3,128.8 562.3,125 561.8,123.9 560.8,121.7 559.8,119.2 558.8,120.6 557.8,120.9 557.3,121.2 556.3,123.7 555.3,126.8 554.4,128.7 553.8,130.3 552.8,133.4 551.8,136.8 551.2,138.7 550.3,142.1 549.3,145.6 548.3,149 547.8,151.1 546.8,155.7 545.8,160.5 545,164.6 544.5,169.5 543.8,173.6 543,178 542.3,181.9 541.4,187.5 540.8,191.7 539.8,198.7 538.8,205.1 537.8,210.9 536.8,216.9 536.3,217.6 535.3,217.6 534.4,217.9 533.8,218.1 532.8,218.1 531.8,218 531.2,217.9 530.3,217.6 529.3,217.9 528.3,218.6 527.8,219.2 526.8,220.7 525.8,223.1 524.8,224.9 523.8,226.2 523.3,226.8 522.3,228.3 521.3,229.7 520.8,229.9 519.8,230.2 519.3,229.6 518.3,225.7 517.3,221.7 516.8,220.6 515.8,218.4 514.8,214.6 513.8,211.9 512.8,211.1 511.8,210.3 511.3,210.1 510.3,210.3 509.3,210.3 508.3,210.3" fill="#d9b5dd" stroke="#d9b5dd" stroke-width="0.8"/>
<polygon points="508.3,195.7 508.8,195.1 509.3,194.5 509.8,193.9 510.3,193.6 510.8,193.3 511.3,193 511.7,193.9 511.8,194.3 512.3,196.2 512.8,198.1 513.3,198 513.8,197.8 514.3,197.7 514.8,199.2 515.3,201.6 515.8,203.9 516.3,203.8 516.8,203.6 517.2,203.5 517.3,203.6 517.8,205.9 518.3,208.1 518.8,210.4 519.3,213.6 519.5,215 519.8,216 520.3,217.7 520.8,218.3 521.1,218.7 521.3,218.3 521.8,217.3 522.3,215.8 522.8,214.3 523.3,212.7 523.4,212.5 523.8,211.9 524.3,211.2 524.8,210.5 525.3,209.5 525.8,208.4 526.3,206.8 526.8,206.5 527.3,206.2 527.8,205.9 528.1,205.5 528.3,205.7 528.8,206.1 529.3,206.5 529.8,205.2 530.3,204 530.8,202.7 531.2,203.9 531.3,204 531.8,205.2 532.3,206.5 532.8,205.3 533.3,204 533.8,202.8 534.3,204 534.4,204.2 534.8,204.9 535.3,205.7 535.8,205.3 536.3,204.8 536.7,204.4 536.8,203.6 537.3,198.7 537.8,193.8 538.3,188.9 538.8,187.4 539.3,185.9 539.8,184.4 540.3,181 540.8,177.6 541.3,175.3 541.4,174.6 541.8,172 542.3,168.8 542.8,165.5 543,164.2 543.3,162.1 543.8,158.5 544.3,154.8 544.5,153.4 544.8,150 545,147.7 545.3,146.2 545.8,143.6 546.3,141.7 546.8,139.7 547.3,137.8 547.8,134.9 548.1,128.8 548.3,127.6 548.8,124.5 549.3,124.8 549.8,125.1 550.3,125.4 550.8,121.6 551.2,118.2 551.3,117.9 551.8,114.3 552.3,115.5 552.8,116.6 553.3,117.8 553.8,116.2 554.3,114.6 554.4,114.2 554.8,113.3 555.3,111.5 555.8,109.8 556.3,108 556.8,107.4 557.3,106.8 557.5,106.6 557.8,106.4 558.3,104.3 558.8,102.2 559.3,100 559.8,99.6 560.3,101.6 560.8,103.6 561.3,105.6 561.8,107.6 562.2,109.3 562.3,109.6 562.8,109.5 563.3,109.4 563.8,109.3 564.3,111.8 564.8,114.3 565.3,116.8 565.8,118.7 566.3,120.5 566.8,122.4 567.3,123.5 567.8,124.6 568.3,125.8 568.4,125.7 568.8,124.3 569.3,122.6 569.8,120.9 570.3,120.6 570.8,120.3 571.3,118.6 571.8,119.5 572.3,120.5 572.8,121.4 573.1,119.4 573.3,118.1 573.8,114.9 574.3,111.6 574.8,109.7 575.3,107.8 575.8,105.8 576.2,106.6 576.3,106.7 576.8,108 577.3,109.3 577.8,108.3 578.3,107.3 578.8,106.4 579.3,106.4 579.8,106.4 580.2,106.4 580.3,106.7 580.8,107.1 581.3,107.4 581.8,107.8 582.3,108.9 582.5,109.4 582.8,108.8 583.3,107.9 583.8,106.6 584.3,105.2 584.8,103.9 585.3,103.9 585.6,103.9 585.8,104.4 586.3,105.9 586.8,96.2 587.2,94.7 587.3,101.1 587.8,97.7 588.3,99.3 588.8,100.8 589.3,102.4 589.8,102.1 590,102 590.3,103.2 590.8,105.1 591.3,105.3 591.8,105.5 591.9,105.5 592.3,106.3 592.8,109.7 593.3,113.1 593.8,116.4 594.2,118.5 594.3,119.1 594.8,121.9 595.3,124.8 595.8,126.7 596.3,128.6 596.6,129.8 596.8,130.7 597.3,135.1 597.8,139.5 598.3,143.8 598.8,146.1 598.9,146.6 599.3,147.5 599.8,148.8 600.3,151.1 600.8,153.4 601.2,155.5 601.3,155.8 601.8,156.3 602.3,156.7 602.8,157.2 603,158.4 603.3,157.7 603.8,159.5 604.3,161.4 604.8,164.6 605.3,167.9 605.8,169.8 606.3,169.9 606.8,169.9 607.3,170 607.7,170.5 607.8,170.7 608.3,171.4 608.8,172.1 609.3,172.2 609.8,172.2 610,172.2 610.3,171.5 610.8,169.5 611.3,167.6 611.8,165.6 612.3,164.3 612.4,164 612.8,162.2 613.3,159.9 613.8,159.1 614.3,161.6 614.7,161.4 614.8,161 615.3,159.1 615.8,155.4 616.3,151.6 616.8,147.2 617.3,142.8 617.8,138.4 618.3,133.4 618.8,128.3 619.3,123.3 619.4,122.2 619.8,116.5 620.3,109.4 620.5,106.5 620.8,102.3 621.3,97.1 621.6,93.9 621.8,92.2 622.3,88 622.5,85.6 622.8,83.1 623.3,78.9 623.8,74.7 624.1,68.9 624.3,69 624.8,69.1 625.3,69.3 625.7,67.7 625.8,67.4 626.3,66.3 626.8,65.2 627.3,64.2 627.8,63.1 628,62.7 628.3,62.4 628.8,60.4 629.3,58.4 629.8,56.4 630.3,57.2 630.8,58 631.1,58.5 631.3,58.7 631.8,57.9 632.3,52 632.8,50.5 633.3,54.6 633.8,53 634.2,51.5 634.3,51.4 634.8,52.1 635.3,52.9 635.8,53.6 636.3,51.3 636.8,49 637.3,46.7 637.4,46.9 637.8,49 638.3,51.6 638.8,54.1 639.3,54.1 639.8,54 640.3,54 640.5,54.6 640.8,55.3 641.3,56.4 641.8,57.6 642.3,58.1 642.8,58.7 643.3,59.3 643.6,59.1 643.8,58.8 644.3,58 644.8,47 645.3,45.5 645.8,57.8 646.3,58.1 646.8,58.3 646.8,58.3 647.3,59 647.8,59.7 648.3,60.1 648.8,60.5 649.3,60.9 649.8,61 649.9,61.1 650.3,61.2 650.8,54.8 651.3,53.3 651.8,64 652.3,65.3 652.8,65.8 653,65.9 653.3,66.1 653.8,66.3 654.3,65.3 654.8,64.3 655.3,63.4 655.8,63.6 656.1,63.7 656.3,63.6 656.8,63.3 657.3,63.5 657.8,63.7 658.3,64 658.8,62 659.2,60.3 659.3,60.1 659.8,57.6 660.3,58.1 660.8,58.7 661.3,59.2 661.8,56.3 662.3,54.8 662.8,52.7 663.2,54 663.3,54.7 663.8,58.2 664.3,61.7 664.8,60.9 665.3,60.2 665.5,59.9 665.8,59 666.3,58.8 666.8,58.7 667.3,58.6 667.8,58.2 668.3,57.9 668.6,57.7 668.8,57.6 669.3,60.7 669.8,63.9 670.3,67 670.8,67.5 671.3,68 671.8,68.4 671.8,68.5 672.3,66.7 672.8,64.9 673.3,63.1 673.8,67.1 674.3,71 674.8,74.9 674.9,74.4 674.9,86.6 674.8,86.4 674.3,86.3 673.8,86.3 673.3,86.3 672.8,85.3 672.3,84.3 671.8,83.3 671.8,83.2 671.3,82.8 670.8,82.3 670.3,81.8 669.8,81.7 669.3,81.6 668.8,81.5 668.6,81.1 668.3,80.6 667.8,79.9 667.3,79.2 666.8,78.9 666.3,78.6 665.8,78.4 665.5,78.2 665.3,78.1 664.8,77.8 664.3,77.5 663.8,77.2 663.3,76.8 663.2,76.7 662.8,77 662.3,77.4 661.8,77.8 661.3,78.2 660.8,78.7 660.3,79.2 659.8,79.7 659.3,80 659.2,80 658.8,80.1 658.3,80.1 657.8,80.9 657.3,81.7 656.8,82.4 656.3,82.3 656.1,82.2 655.8,81.8 655.3,81.1 654.8,80.4 654.3,79.6 653.8,78.8 653.3,80 653,80.7 652.8,81.2 652.3,82.6 651.8,81.5 651.3,80.4 650.8,79.3 650.3,78.9 649.9,78.6 649.8,78.5 649.3,78.1 648.8,77.8 648.3,77.4 647.8,77 647.3,78 646.8,79 646.8,79.1 646.3,80 645.8,78.1 645.3,76.3 644.8,74.5 644.3,74.4 643.8,74.3 643.6,74.3 643.3,74.2 642.8,74 642.3,73.8 641.8,73.6 641.3,73.5 640.8,73.4 640.5,73.4 640.3,73.2 639.8,72.3 639.3,71.4 638.8,70.5 638.3,70.4 637.8,70.3 637.4,70.3 637.3,70.4 636.8,71.6 636.3,72.7 635.8,73.9 635.3,72.8 634.8,71.6 634.3,70.5 634.2,70.6 633.8,71.3 633.3,72.2 632.8,73.1 632.3,73.6 631.8,74.2 631.3,74.7 631.1,74.8 630.8,75 630.3,75.4 629.8,75.6 629.3,76.3 628.8,77 628.3,77.8 628,78.2 627.8,78.7 627.3,79.8 626.8,80.9 626.3,81.9 625.8,82.9 625.7,83.1 625.3,85 624.8,87.4 624.3,89.8 624.1,90.8 623.8,92.8 623.3,96.5 622.8,100.2 622.5,102.4 622.3,104.6 621.8,109.6 621.6,111.7 621.3,114.8 620.8,120.1 620.5,123.5 620.3,126 619.8,132.2 619.4,137.2 619.3,138.2 618.8,142.8 618.3,147.5 617.8,152.1 617.3,156.5 616.8,160.8 616.3,165.2 615.8,168.8 615.3,172.5 614.8,176.1 614.7,176.8 614.3,178.2 613.8,179.9 613.3,181.6 612.8,182.9 612.4,183.9 612.3,184.1 611.8,185.1 611.3,186.9 610.8,188.6 610.3,190.4 610,191.3 609.8,191.1 609.3,190.7 608.8,190.4 608.3,190 607.8,189.6 607.7,189.6 607.3,188.9 606.8,188.3 606.3,187.7 605.8,187.1 605.3,185.8 604.8,184.3 604.3,182.8 603.8,182.2 603.3,181.5 603,181.1 602.8,180.1 602.3,177.5 601.8,175 601.3,172.4 601.2,172 600.8,169.5 600.3,166.7 599.8,163.9 599.3,161.6 598.9,159.9 598.8,159.4 598.3,157.1 597.8,154.6 597.3,152.1 596.8,149.7 596.6,148.8 596.3,147.3 595.8,144.8 595.3,142.4 594.8,140.1 594.3,137.7 594.2,137.3 593.8,135.3 593.3,132.4 592.8,129.4 592.3,126.5 591.9,124.4 591.8,124.1 591.3,122.5 590.8,120.9 590.3,119.4 590,118.4 589.8,118.7 589.3,119.4 588.8,119.5 588.3,119.6 587.8,119.8 587.3,120.4 587.2,120.6 586.8,120.6 586.3,120.7 585.8,120.6 585.6,120.6 585.3,121.2 584.8,122.1 584.3,123.1 583.8,124.1 583.3,125.1 582.8,126.1 582.5,126.8 582.3,126.5 581.8,125.9 581.3,125.4 580.8,125 580.3,124.5 580.2,124.4 579.8,124.5 579.3,124.7 578.8,124.9 578.3,125.2 577.8,125.6 577.3,125.9 576.8,126.7 576.3,127.5 576.2,127.5 575.8,129 575.3,130.1 574.8,131.2 574.3,132.2 573.8,133.2 573.3,134.2 573.1,134.6 572.8,134.9 572.3,135.7 571.8,136.5 571.3,137.4 570.8,137.9 570.3,138.4 569.8,138.8 569.3,139.3 568.8,139.8 568.4,140.3 568.3,140 567.8,138.6 567.3,137.2 566.8,135.8 566.3,134.3 565.8,132.9 565.3,131.5 564.8,130.5 564.3,129.5 563.8,128.5 563.3,127 562.8,125.5 562.3,124 562.2,123.9 561.8,123.1 561.3,122.2 560.8,121.2 560.3,119.1 559.8,117.1 559.3,117 558.8,117.5 558.3,118.1 557.8,118.6 557.5,119.2 557.3,119.9 556.8,121.7 556.3,123.5 555.8,124.9 555.3,126.3 554.8,127.6 554.4,128.4 554.3,128.7 553.8,130.2 553.3,131.7 552.8,133 552.3,134.4 551.8,135.7 551.3,137.4 551.2,137.6 550.8,139.2 550.3,140.9 549.8,142.7 549.3,144.4 548.8,146.2 548.3,148 548.1,148.8 547.8,150.2 547.3,152.6 546.8,154.8 546.3,157 545.8,159.3 545.3,161.5 545,162.9 544.8,164.8 544.5,167.5 544.3,168.8 543.8,171.7 543.3,174.7 543,176.4 542.8,177.6 542.3,180.5 541.8,183.5 541.4,185.8 541.3,186.5 540.8,189.9 540.3,193.3 539.8,196.7 539.3,199.8 538.8,203 538.3,206.1 537.8,209.5 537.3,212.8 536.8,216.2 536.7,216.8 536.3,216.7 535.8,216.6 535.3,216.5 534.8,216.7 534.4,216.8 534.3,216.9 533.8,217.1 533.3,216.9 532.8,216.7 532.3,216.5 531.8,216.4 531.3,216.3 531.2,216.3 530.8,216.1 530.3,216.6 529.8,217.1 529.3,217.6 528.8,217.3 528.3,217.1 528.1,217 527.8,217.8 527.3,218.8 526.8,219.9 526.3,221 525.8,222.1 525.3,222.6 524.8,223 524.3,223.6 523.8,224.3 523.4,224.8 523.3,225 522.8,226 522.3,227.1 521.8,228.2 521.3,228.8 521.1,229.1 520.8,229 520.3,228.8 519.8,228.8 519.5,228.8 519.3,228 518.8,226.1 518.3,224.6 517.8,223.1 517.3,221.6 517.2,221.1 516.8,219.6 516.3,217.6 515.8,215.7 515.3,214.4 514.8,213 514.3,212.6 513.8,211.5 513.3,210.4 512.8,209.2 512.3,208.5 511.8,207.8 511.7,207.6 511.3,207.8 510.8,208.3 510.3,208.8 509.8,209.3 509.3,209.2 508.8,209.2 508.3,209.2" fill="#f2a385" stroke="#f2a385" stroke-width="0.9"/>
<polyline points="508.4,205.8 509.6,209.6 510.9,204.4 512.1,209.1 513.4,204 514.6,210.1 515.9,209.1 517.1,219.4 518.4,219.8 519.6,228.8 520.9,224.1 522.1,225.1 523.4,220.1 524.6,221.9 525.9,215.5 527.1,217.7 528.4,212.5 529.6,213.6 530.9,211 532.1,214 533.4,212.5 534.6,214.1 535.9,210.4 537.1,213.8 538.4,197.2 539.6,196.4 540.9,183.9 542.1,181.8 543.4,168.8 544.6,162.6 545.9,151.6 547.1,149.5 548.4,138.7 549.6,143.2 550.9,133.6 552.1,134.3 553.4,125.3 554.6,125.1 555.9,114.1 557.1,119.5 558.4,112 559.6,112.3 560.9,112.7 562.1,120.7 563.4,122.3 564.6,128.7 565.9,128.4 567.1,135.6 568.4,133.3 569.6,140.8 570.9,131.9 572.1,136 573.4,123.9 574.6,130.8 575.9,119 577.1,126.3 578.4,114.5 579.6,121.1 580.9,114.1 582.1,122 583.4,116.6 584.6,118.1 585.9,113.8 587.1,118.4 588.4,113.2 589.6,114.2 590.9,110.7 592.1,120.9 593.4,124.5 594.6,132.9 595.9,137.8 597.1,148 598.4,149.3 599.6,159.5 600.9,163.8 602.1,172 603.4,173.4 604.6,181.6 605.9,178.6 607.1,186.5 608.4,182.7 609.6,187 610.9,180.6 612.1,182.7 613.4,176.2 614.6,173.8 615.9,162.3 617.1,154.1 618.4,138.5 619.6,128.8 620.9,111.7 622.1,102.6 623.4,86.9 624.6,83.8 625.9,76.6 627.1,76.1 628.4,68 629.6,71.1 630.9,64 632.1,70.2 633.4,60.4 634.6,69.4 635.9,58.9 637.1,67.4 638.4,58.3 639.6,68.6 640.9,66.5 642.1,69.1 643.4,67.4 644.6,72.3 645.9,67.9 647.1,70.7 648.4,69.5 649.6,77.2 650.9,71.7 652.1,77.2 653.4,71.3 654.6,77.4 655.9,70.7 657.1,78.9 658.4,73.4 659.6,76 660.9,71.4 662.1,72.5 663.4,66 664.6,78.3 665.9,69.1 667.1,78.3 668.4,72.9 669.6,80.6 670.9,76 672.1,84.1 673.4,79.1" fill="none" stroke="#1c2a6b" stroke-width="3.1" stroke-linejoin="round"/>
</g>
<path d="M549.9 238.2v-2.4M549.9 46.4v2.4M591.5 238.2v-2.4M591.5 46.4v2.4M633 238.2v-2.4M633 46.4v2.4M516.7 238.2v-1.3M516.7 46.4v1.3M525 238.2v-1.3M525 46.4v1.3M533.3 238.2v-1.3M533.3 46.4v1.3M541.6 238.2v-1.3M541.6 46.4v1.3M558.2 238.2v-1.3M558.2 46.4v1.3M566.5 238.2v-1.3M566.5 46.4v1.3M574.8 238.2v-1.3M574.8 46.4v1.3M583.1 238.2v-1.3M583.1 46.4v1.3M599.8 238.2v-1.3M599.8 46.4v1.3M608.1 238.2v-1.3M608.1 46.4v1.3M616.4 238.2v-1.3M616.4 46.4v1.3M624.7 238.2v-1.3M624.7 46.4v1.3M641.3 238.2v-1.3M641.3 46.4v1.3M649.6 238.2v-1.3M649.6 46.4v1.3M657.9 238.2v-1.3M657.9 46.4v1.3M666.2 238.2v-1.3M666.2 46.4v1.3M508.4 207.5h2.4M674.5 207.5h-2.4M508.4 176.8h2.4M674.5 176.8h-2.4M508.4 146.2h2.4M674.5 146.2h-2.4M508.4 115.5h2.4M674.5 115.5h-2.4M508.4 84.8h2.4M674.5 84.8h-2.4M508.4 54.1h2.4M674.5 54.1h-2.4M508.4 232.1h1.3M674.5 232.1h-1.3M508.4 225.9h1.3M674.5 225.9h-1.3M508.4 219.8h1.3M674.5 219.8h-1.3M508.4 213.7h1.3M674.5 213.7h-1.3M508.4 201.4h1.3M674.5 201.4h-1.3M508.4 195.2h1.3M674.5 195.2h-1.3M508.4 189.1h1.3M674.5 189.1h-1.3M508.4 183h1.3M674.5 183h-1.3M508.4 170.7h1.3M674.5 170.7h-1.3M508.4 164.6h1.3M674.5 164.6h-1.3M508.4 158.4h1.3M674.5 158.4h-1.3M508.4 152.3h1.3M674.5 152.3h-1.3M508.4 140h1.3M674.5 140h-1.3M508.4 133.9h1.3M674.5 133.9h-1.3M508.4 127.8h1.3M674.5 127.8h-1.3M508.4 121.6h1.3M674.5 121.6h-1.3M508.4 109.3h1.3M674.5 109.3h-1.3M508.4 103.2h1.3M674.5 103.2h-1.3M508.4 97.1h1.3M674.5 97.1h-1.3M508.4 90.9h1.3M674.5 90.9h-1.3M508.4 78.7h1.3M674.5 78.7h-1.3M508.4 72.5h1.3M674.5 72.5h-1.3M508.4 66.4h1.3M674.5 66.4h-1.3M508.4 60.3h1.3M674.5 60.3h-1.3M508.4 48h1.3M674.5 48h-1.3" stroke="#333" stroke-width="1" fill="none"/><rect x="508.4" y="46.4" width="166.1" height="191.8" fill="none" stroke="#333" stroke-width="1.2"/>
<text transform="translate(508.2 254.8) scale(1.005 1.055)" text-anchor="middle">150</text>
<text transform="translate(549.72 254.8) scale(1.005 1.055)" text-anchor="middle">160</text>
<text transform="translate(591.25 254.8) scale(1.005 1.055)" text-anchor="middle">170</text>
<text transform="translate(632.77 254.8) scale(1.005 1.055)" text-anchor="middle">180</text>
<text transform="translate(674.3 254.8) scale(1.005 1.055)" text-anchor="middle">190</text>
<text transform="translate(504.5 243.35) scale(1.005 1.055)" text-anchor="end">800</text>
<text transform="translate(504.5 212.67) scale(1.005 1.055)" text-anchor="end">900</text>
<text transform="translate(504.5 181.99) scale(1.005 1.055)" text-anchor="end">1000</text>
<text transform="translate(504.5 151.31) scale(1.005 1.055)" text-anchor="end">1100</text>
<text transform="translate(504.5 120.63) scale(1.005 1.055)" text-anchor="end">1200</text>
<text transform="translate(504.5 89.95) scale(1.005 1.055)" text-anchor="end">1300</text>
<text transform="translate(504.5 59.27) scale(1.005 1.055)" text-anchor="end">1400</text>
<text transform="translate(592.6 271.8) scale(1.0 1.055)" text-anchor="middle" letter-spacing="0.1">Time (s)</text>
<text transform="translate(470 143.2) rotate(-90) scale(1.0 1.055)" text-anchor="middle" letter-spacing="0.09">Mechanical torque (kNm)</text>
<clipPath id="cb"><rect x="508.3" y="283.6" width="166.3" height="192.2"/></clipPath>
<g stroke="#c2c2c2" stroke-width="1" stroke-dasharray="1.7 5.07" fill="none"><path d="M516.6 283.6V475.8M524.9 283.6V475.8M533.2 283.6V475.8M541.6 283.6V475.8M549.9 283.6V475.8M558.2 283.6V475.8M566.5 283.6V475.8M574.8 283.6V475.8M583.1 283.6V475.8M591.5 283.6V475.8M599.8 283.6V475.8M608.1 283.6V475.8M616.4 283.6V475.8M624.7 283.6V475.8M633 283.6V475.8M641.3 283.6V475.8M649.7 283.6V475.8M658 283.6V475.8M666.3 283.6V475.8" stroke-dashoffset="5.6"/><path d="M508.3 466.2H674.6M508.3 456.6H674.6M508.3 447H674.6M508.3 437.4H674.6M508.3 427.8H674.6M508.3 418.1H674.6M508.3 408.5H674.6M508.3 398.9H674.6M508.3 389.3H674.6M508.3 379.7H674.6M508.3 370.1H674.6M508.3 360.5H674.6M508.3 350.9H674.6M508.3 341.3H674.6M508.3 331.6H674.6M508.3 322H674.6M508.3 312.4H674.6M508.3 302.8H674.6M508.3 293.2H674.6" stroke-dashoffset="5.2"/></g>
<g clip-path="url(#cb)" fill="none">
<path d="M509.2 367.3V399.6M510.5 367.3V401.6M511.8 356.4V401.9M513.1 365.5V389.1M514.4 373V395.7M515.7 375.7V390.7M517 348.7V399.2M518.3 351V389.5M519.6 374.4V387.4M520.9 373.4V390.7M522.2 365.8V391.8M523.5 369.6V397.8M524.8 348.2V398M526.1 365.5V392M527.4 341V389.6M528.7 358.5V396.7M530 353.1V392.6M531.3 350.6V394.8M532.6 356.2V398.2M533.9 347.5V387.7M535.2 354.7V387.7M536.5 316.7V396.3M537.8 341V390.2M539.1 370.9V399M540.4 306.6V392.7M541.7 331.8V399.3M543 325.1V399.6M544.3 327.7V401.9M545.6 336.3V396.8M546.9 336.2V401.6M548.2 336.9V392.3M549.5 340.7V389.7M550.8 321.4V389.9M552.1 316.8V395.6M553.4 338.4V396.5M554.7 324.5V393.9M556 319.4V387.9M557.3 335V389.4M558.6 352.1V397.1M559.9 373.2V394.1M561.2 321.9V391.9M562.5 362.4V400.5M563.8 369.8V394.9M565.1 369.4V391.9M566.4 344V393.2M567.7 353.7V397M569 341V388.8M570.3 330.5V400.7M571.6 317.5V399.3M572.9 360.5V399.1M574.2 332.3V391.7M575.5 330.9V398M576.8 337V397.4M578.1 375.6V412.5M579.4 330V409.9M580.7 360.9V415.6M582 334.2V419.1M583.3 367.8V423.2M584.6 360V428.6M585.9 318.3V411.9M587.2 328.9V427M588.5 326V418.4M589.8 371.9V431M591.1 360.5V408.7M592.4 358V433.6M593.7 334.7V402.7M595 334.1V438.3M596.3 367.4V401.1M597.6 372.8V401.2M598.9 357.3V427.3M600.2 359.4V394.5M601.5 353.5V396.5M602.8 348.8V387.4M604.1 372.1V393.7M605.4 350V393.1M606.7 337.8V388.8M608 337V396.3M609.3 364.8V393.8M610.6 335.5V393.1M611.9 353.8V396.1M613.2 349.8V396.7M614.5 333V387.4M615.8 332.3V396.8M617.1 322V401.1M618.4 335.3V390.9M619.7 312V393.2M621 351.3V396.5M622.3 320.7V395M623.6 316V402.5M624.9 338.1V394.7M626.2 324.5V394.2M627.5 326.7V400.1M628.8 333.1V391.6M630.1 365.3V391.2M631.4 358.8V402.6M632.7 353.6V394.7M634 363.1V398.8M635.3 337.5V392M636.6 368.7V392M637.9 329V392.9M639.2 363.4V387.9M640.5 323V401.5M641.8 364.3V387.6M643.1 366.8V396.2M644.4 362.5V394.8M645.7 332V393.4M647 371.7V391.9M648.3 374.5V400.2M649.6 366.7V391.8M650.9 363.6V389.6M652.2 365.3V395M653.5 344V396.4M654.8 374.5V390.9M656.1 341.7V397.6M657.4 344.6V402.4M658.7 337.8V388.1M660 371.6V397.3M661.3 362.2V389.5M662.6 343.3V389.7M663.9 367.9V389.9M665.2 375.3V389.1M666.5 359.3V388.3M667.8 365.9V400.9M669.1 356V392.2M670.4 369.3V401.8M671.7 359.4V398.1M673 353.3V395.2M674.3 368.4V396.9" stroke="#f2a385" stroke-width="1.7"/>
<path d="M509.2 372.5V391.9M510.5 366V415.6M511.8 373.1V405.4M513.1 362.4V391.7M514.4 371V405.8M515.7 335.1V411.5M517 367.5V411.1M518.3 367.1V425M519.6 346.4V403.9M520.9 367.2V410.7M522.2 362.9V407.7M523.5 348.8V418.6M524.8 337V406.9M526.1 369.1V416.4M527.4 363V398.7M528.7 366.8V404.7M530 366.9V402.4M531.3 365V429.7M532.6 363.8V411.6M533.9 362.3V416.4M535.2 364.9V412.6M536.5 344.8V398.3M537.8 355.1V403.1M539.1 365V421.9M540.4 365.7V417.7M541.7 362.9V427.9M543 346.1V418.8M544.3 354.3V416.7M545.6 352.2V430.5M546.9 368.3V405.2M548.2 334.5V400.3M549.5 318.8V430.5M550.8 367.6V417.2M552.1 356.8V397.3M553.4 362.1V404.5M554.7 358.7V403M556 357.2V399.1M557.3 367.9V414.8M558.6 352.2V398.5M559.9 360.8V398M561.2 368.4V424M562.5 367.7V403.2M563.8 361.1V428M565.1 360.8V414.7M566.4 335V446.9M567.7 331.5V420.3M569 365.3V427.7M570.3 345.6V399.3M571.6 356.7V443.8M572.9 362.9V425.4M574.2 357.2V398.7M575.5 366.7V406.1M576.8 350.9V429M578.1 362.9V413.5M579.4 361.5V409.5M580.7 357.4V397.9M582 368.7V406.9M583.3 341.7V402.4M584.6 361V446M585.9 323V418.7M587.2 356.9V449.2M588.5 326.9V397.6M589.8 367.7V416.7M591.1 357.6V411.5M592.4 360.1V424.5M593.7 360.7V404.8M595 368.7V404.7M596.3 359V418.7M597.6 355.8V411.2M598.9 357.6V409.5M600.2 361.6V422.6M601.5 360.8V433.6M602.8 355.7V427.6M604.1 359.5V416.6M605.4 357V409.9M606.7 361.7V401.6M608 361.3V432.8M609.3 366.6V416.7M610.6 360.3V398.9M611.9 361.2V404.5M613.2 366.1V402.2M614.5 344.1V413.5M615.8 368.2V415M617.1 358.6V405.6M618.4 336.2V443M619.7 355.2V397.5M621 361V400.4M622.3 360.6V411.7M623.6 368.2V415.1M624.9 364.5V410.6M626.2 365.8V444.5M627.5 331.5V420M628.8 340.8V412.8M630.1 357.5V417.3M631.4 327.7V398.8M632.7 368.2V404.5M634 359.3V398.4M635.3 361.3V399.1M636.6 337V446.9M637.9 340.7V412.4M639.2 367.4V404.1M640.5 355.9V402.7M641.8 359.1V409M643.1 364.3V423.4M644.4 365.7V448.4M645.7 336.2V418.7M647 363.6V398.6M648.3 329V421.3M649.6 362.5V420.9M650.9 355.1V429.7M652.2 355.4V423M653.5 357.9V409.5M654.8 359.8V427.8M656.1 363.2V414.9M657.4 363.7V413.3M658.7 367V405.6M660 354.8V405.5M661.3 362.4V411.1M662.6 366.7V398.3M663.9 356.2V428.5M665.2 355.3V399.5M666.5 355.9V397.5M667.8 362.9V413.2M669.1 346.8V418.5M670.4 343.8V404.5M671.7 362.2V421.9M673 360.9V408.3M674.3 367.2V427.8" stroke="#1c2a6b" stroke-width="1.7"/>
</g>
<path d="M549.9 475.8v-2.4M549.9 283.6v2.4M591.5 475.8v-2.4M591.5 283.6v2.4M633 475.8v-2.4M633 283.6v2.4M516.6 475.8v-1.3M516.6 283.6v1.3M524.9 475.8v-1.3M524.9 283.6v1.3M533.2 475.8v-1.3M533.2 283.6v1.3M541.6 475.8v-1.3M541.6 283.6v1.3M558.2 475.8v-1.3M558.2 283.6v1.3M566.5 475.8v-1.3M566.5 283.6v1.3M574.8 475.8v-1.3M574.8 283.6v1.3M583.1 475.8v-1.3M583.1 283.6v1.3M599.8 475.8v-1.3M599.8 283.6v1.3M608.1 475.8v-1.3M608.1 283.6v1.3M616.4 475.8v-1.3M616.4 283.6v1.3M624.7 475.8v-1.3M624.7 283.6v1.3M641.3 475.8v-1.3M641.3 283.6v1.3M649.7 475.8v-1.3M649.7 283.6v1.3M658 475.8v-1.3M658 283.6v1.3M666.3 475.8v-1.3M666.3 283.6v1.3M508.3 427.8h2.4M674.6 427.8h-2.4M508.3 379.7h2.4M674.6 379.7h-2.4M508.3 331.6h2.4M674.6 331.6h-2.4M508.3 466.2h1.3M674.6 466.2h-1.3M508.3 456.6h1.3M674.6 456.6h-1.3M508.3 447h1.3M674.6 447h-1.3M508.3 437.4h1.3M674.6 437.4h-1.3M508.3 418.1h1.3M674.6 418.1h-1.3M508.3 408.5h1.3M674.6 408.5h-1.3M508.3 398.9h1.3M674.6 398.9h-1.3M508.3 389.3h1.3M674.6 389.3h-1.3M508.3 370.1h1.3M674.6 370.1h-1.3M508.3 360.5h1.3M674.6 360.5h-1.3M508.3 350.9h1.3M674.6 350.9h-1.3M508.3 341.3h1.3M674.6 341.3h-1.3M508.3 322h1.3M674.6 322h-1.3M508.3 312.4h1.3M674.6 312.4h-1.3M508.3 302.8h1.3M674.6 302.8h-1.3M508.3 293.2h1.3M674.6 293.2h-1.3" stroke="#333" stroke-width="1" fill="none"/><rect x="508.3" y="283.6" width="166.3" height="192.2" fill="none" stroke="#333" stroke-width="1.2"/>
<text transform="translate(508.1 492.9) scale(1.005 1.055)" text-anchor="middle">150</text>
<text transform="translate(549.67 492.9) scale(1.005 1.055)" text-anchor="middle">160</text>
<text transform="translate(591.25 492.9) scale(1.005 1.055)" text-anchor="middle">170</text>
<text transform="translate(632.82 492.9) scale(1.005 1.055)" text-anchor="middle">180</text>
<text transform="translate(674.4 492.9) scale(1.005 1.055)" text-anchor="middle">190</text>
<text transform="translate(503.6 481.1) scale(1.005 1.055)" text-anchor="end">-100</text>
<text transform="translate(502.9 433.05) scale(1.005 1.055)" text-anchor="end">-50</text>
<text transform="translate(505.1 385) scale(1.005 1.055)" text-anchor="end">0</text>
<text transform="translate(505.1 336.95) scale(1.005 1.055)" text-anchor="end">50</text>
<text transform="translate(505.1 288.9) scale(1.005 1.055)" text-anchor="end">100</text>
<text transform="translate(592.6 509.3) scale(1.0 1.055)" text-anchor="middle" letter-spacing="0.1">Time (s)</text>
<text transform="translate(472.8 379) rotate(-90) scale(1.0 1.055)" text-anchor="middle" letter-spacing="0.09">Torque error (kNm)</text>
<rect x="96.75" y="0.5" width="299.25" height="23.75" fill="#fff" stroke="#262626" stroke-width="1.1"/>
<path d="M104.2 12.3H154.4" stroke="#d9b5dd" stroke-width="1.3"/>
<text transform="translate(160.3 17.2) scale(1.0 1.055)">MS</text>
<path d="M194.3 12.3H244.8" stroke="#f0906a" stroke-width="1.3"/>
<text transform="translate(250.2 17.2) scale(1.0 1.055)">nP2P</text>
<path d="M297 12.3H346.8" stroke="#1c2a6b" stroke-width="1.3"/>
<text transform="translate(352.4 17.2) scale(1.0 1.055)">ODS3</text>
</svg>
</body></html>
